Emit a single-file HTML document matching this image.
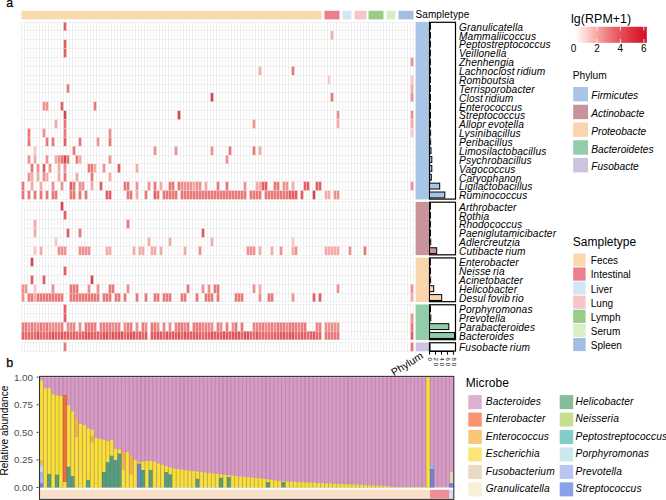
<!DOCTYPE html><html><head><meta charset="utf-8"><style>html,body{margin:0;padding:0;background:#fff;overflow:hidden}svg{display:block}</style></head><body>
<svg width="666" height="500" viewBox="0 0 666 500" font-family='"Liberation Sans", sans-serif'>
<rect width="666" height="500" fill="#fff"/>
<text x="6.2" y="6.7" font-size="12.3" fill="#000" stroke="#000" stroke-width="0.25">a</text>
<rect x="21.50" y="10.8" width="300.00" height="8.6" fill="#FAD9AE"/>
<rect x="324.50" y="10.8" width="15.00" height="8.6" fill="#EC7F8E"/>
<rect x="342.50" y="10.8" width="9.00" height="8.6" fill="#D3E6F4"/>
<rect x="354.50" y="10.8" width="12.00" height="8.6" fill="#F7C4CA"/>
<rect x="368.50" y="10.8" width="15.00" height="8.6" fill="#98CD88"/>
<rect x="386.50" y="10.8" width="9.00" height="8.6" fill="#D8EFC6"/>
<rect x="398.50" y="10.8" width="15.00" height="8.6" fill="#A3BEE2"/>
<text x="415.5" y="17.9" font-size="10" letter-spacing="0.1" fill="#000">Sampletype</text>
<rect x="21.00" y="22.00" width="300.00" height="177.40" fill="#fff"/>
<rect x="324.00" y="22.00" width="15.00" height="177.40" fill="#fff"/>
<rect x="342.00" y="22.00" width="9.00" height="177.40" fill="#fff"/>
<rect x="354.00" y="22.00" width="12.00" height="177.40" fill="#fff"/>
<rect x="368.00" y="22.00" width="15.00" height="177.40" fill="#fff"/>
<rect x="386.00" y="22.00" width="9.00" height="177.40" fill="#fff"/>
<rect x="398.00" y="22.00" width="15.00" height="177.40" fill="#fff"/>
<rect x="21.00" y="201.90" width="300.00" height="53.22" fill="#fff"/>
<rect x="324.00" y="201.90" width="15.00" height="53.22" fill="#fff"/>
<rect x="342.00" y="201.90" width="9.00" height="53.22" fill="#fff"/>
<rect x="354.00" y="201.90" width="12.00" height="53.22" fill="#fff"/>
<rect x="368.00" y="201.90" width="15.00" height="53.22" fill="#fff"/>
<rect x="386.00" y="201.90" width="9.00" height="53.22" fill="#fff"/>
<rect x="398.00" y="201.90" width="15.00" height="53.22" fill="#fff"/>
<rect x="21.00" y="257.62" width="300.00" height="44.35" fill="#fff"/>
<rect x="324.00" y="257.62" width="15.00" height="44.35" fill="#fff"/>
<rect x="342.00" y="257.62" width="9.00" height="44.35" fill="#fff"/>
<rect x="354.00" y="257.62" width="12.00" height="44.35" fill="#fff"/>
<rect x="368.00" y="257.62" width="15.00" height="44.35" fill="#fff"/>
<rect x="386.00" y="257.62" width="9.00" height="44.35" fill="#fff"/>
<rect x="398.00" y="257.62" width="15.00" height="44.35" fill="#fff"/>
<rect x="21.00" y="304.47" width="300.00" height="35.48" fill="#fff"/>
<rect x="324.00" y="304.47" width="15.00" height="35.48" fill="#fff"/>
<rect x="342.00" y="304.47" width="9.00" height="35.48" fill="#fff"/>
<rect x="354.00" y="304.47" width="12.00" height="35.48" fill="#fff"/>
<rect x="368.00" y="304.47" width="15.00" height="35.48" fill="#fff"/>
<rect x="386.00" y="304.47" width="9.00" height="35.48" fill="#fff"/>
<rect x="398.00" y="304.47" width="15.00" height="35.48" fill="#fff"/>
<rect x="21.00" y="342.45" width="300.00" height="8.87" fill="#fff"/>
<rect x="324.00" y="342.45" width="15.00" height="8.87" fill="#fff"/>
<rect x="342.00" y="342.45" width="9.00" height="8.87" fill="#fff"/>
<rect x="354.00" y="342.45" width="12.00" height="8.87" fill="#fff"/>
<rect x="368.00" y="342.45" width="15.00" height="8.87" fill="#fff"/>
<rect x="386.00" y="342.45" width="9.00" height="8.87" fill="#fff"/>
<rect x="398.00" y="342.45" width="15.00" height="8.87" fill="#fff"/>
<path d="M21.50 22.00v177.40M24.50 22.00v177.40M27.50 22.00v177.40M30.50 22.00v177.40M33.50 22.00v177.40M36.50 22.00v177.40M39.50 22.00v177.40M42.50 22.00v177.40M45.50 22.00v177.40M48.50 22.00v177.40M51.50 22.00v177.40M54.50 22.00v177.40M57.50 22.00v177.40M60.50 22.00v177.40M63.50 22.00v177.40M66.50 22.00v177.40M69.50 22.00v177.40M72.50 22.00v177.40M75.50 22.00v177.40M78.50 22.00v177.40M81.50 22.00v177.40M84.50 22.00v177.40M87.50 22.00v177.40M90.50 22.00v177.40M93.50 22.00v177.40M96.50 22.00v177.40M99.50 22.00v177.40M102.50 22.00v177.40M105.50 22.00v177.40M108.50 22.00v177.40M111.50 22.00v177.40M114.50 22.00v177.40M117.50 22.00v177.40M120.50 22.00v177.40M123.50 22.00v177.40M126.50 22.00v177.40M129.50 22.00v177.40M132.50 22.00v177.40M135.50 22.00v177.40M138.50 22.00v177.40M141.50 22.00v177.40M144.50 22.00v177.40M147.50 22.00v177.40M150.50 22.00v177.40M153.50 22.00v177.40M156.50 22.00v177.40M159.50 22.00v177.40M162.50 22.00v177.40M165.50 22.00v177.40M168.50 22.00v177.40M171.50 22.00v177.40M174.50 22.00v177.40M177.50 22.00v177.40M180.50 22.00v177.40M183.50 22.00v177.40M186.50 22.00v177.40M189.50 22.00v177.40M192.50 22.00v177.40M195.50 22.00v177.40M198.50 22.00v177.40M201.50 22.00v177.40M204.50 22.00v177.40M207.50 22.00v177.40M210.50 22.00v177.40M213.50 22.00v177.40M216.50 22.00v177.40M219.50 22.00v177.40M222.50 22.00v177.40M225.50 22.00v177.40M228.50 22.00v177.40M231.50 22.00v177.40M234.50 22.00v177.40M237.50 22.00v177.40M240.50 22.00v177.40M243.50 22.00v177.40M246.50 22.00v177.40M249.50 22.00v177.40M252.50 22.00v177.40M255.50 22.00v177.40M258.50 22.00v177.40M261.50 22.00v177.40M264.50 22.00v177.40M267.50 22.00v177.40M270.50 22.00v177.40M273.50 22.00v177.40M276.50 22.00v177.40M279.50 22.00v177.40M282.50 22.00v177.40M285.50 22.00v177.40M288.50 22.00v177.40M291.50 22.00v177.40M294.50 22.00v177.40M297.50 22.00v177.40M300.50 22.00v177.40M303.50 22.00v177.40M306.50 22.00v177.40M309.50 22.00v177.40M312.50 22.00v177.40M315.50 22.00v177.40M318.50 22.00v177.40M321.50 22.00v177.40M324.50 22.00v177.40M327.50 22.00v177.40M330.50 22.00v177.40M333.50 22.00v177.40M336.50 22.00v177.40M339.50 22.00v177.40M342.50 22.00v177.40M345.50 22.00v177.40M348.50 22.00v177.40M351.50 22.00v177.40M354.50 22.00v177.40M357.50 22.00v177.40M360.50 22.00v177.40M363.50 22.00v177.40M366.50 22.00v177.40M368.50 22.00v177.40M371.50 22.00v177.40M374.50 22.00v177.40M377.50 22.00v177.40M380.50 22.00v177.40M383.50 22.00v177.40M386.50 22.00v177.40M389.50 22.00v177.40M392.50 22.00v177.40M395.50 22.00v177.40M398.50 22.00v177.40M401.50 22.00v177.40M404.50 22.00v177.40M407.50 22.00v177.40M410.50 22.00v177.40M413.50 22.00v177.40M21.50 201.90v53.22M24.50 201.90v53.22M27.50 201.90v53.22M30.50 201.90v53.22M33.50 201.90v53.22M36.50 201.90v53.22M39.50 201.90v53.22M42.50 201.90v53.22M45.50 201.90v53.22M48.50 201.90v53.22M51.50 201.90v53.22M54.50 201.90v53.22M57.50 201.90v53.22M60.50 201.90v53.22M63.50 201.90v53.22M66.50 201.90v53.22M69.50 201.90v53.22M72.50 201.90v53.22M75.50 201.90v53.22M78.50 201.90v53.22M81.50 201.90v53.22M84.50 201.90v53.22M87.50 201.90v53.22M90.50 201.90v53.22M93.50 201.90v53.22M96.50 201.90v53.22M99.50 201.90v53.22M102.50 201.90v53.22M105.50 201.90v53.22M108.50 201.90v53.22M111.50 201.90v53.22M114.50 201.90v53.22M117.50 201.90v53.22M120.50 201.90v53.22M123.50 201.90v53.22M126.50 201.90v53.22M129.50 201.90v53.22M132.50 201.90v53.22M135.50 201.90v53.22M138.50 201.90v53.22M141.50 201.90v53.22M144.50 201.90v53.22M147.50 201.90v53.22M150.50 201.90v53.22M153.50 201.90v53.22M156.50 201.90v53.22M159.50 201.90v53.22M162.50 201.90v53.22M165.50 201.90v53.22M168.50 201.90v53.22M171.50 201.90v53.22M174.50 201.90v53.22M177.50 201.90v53.22M180.50 201.90v53.22M183.50 201.90v53.22M186.50 201.90v53.22M189.50 201.90v53.22M192.50 201.90v53.22M195.50 201.90v53.22M198.50 201.90v53.22M201.50 201.90v53.22M204.50 201.90v53.22M207.50 201.90v53.22M210.50 201.90v53.22M213.50 201.90v53.22M216.50 201.90v53.22M219.50 201.90v53.22M222.50 201.90v53.22M225.50 201.90v53.22M228.50 201.90v53.22M231.50 201.90v53.22M234.50 201.90v53.22M237.50 201.90v53.22M240.50 201.90v53.22M243.50 201.90v53.22M246.50 201.90v53.22M249.50 201.90v53.22M252.50 201.90v53.22M255.50 201.90v53.22M258.50 201.90v53.22M261.50 201.90v53.22M264.50 201.90v53.22M267.50 201.90v53.22M270.50 201.90v53.22M273.50 201.90v53.22M276.50 201.90v53.22M279.50 201.90v53.22M282.50 201.90v53.22M285.50 201.90v53.22M288.50 201.90v53.22M291.50 201.90v53.22M294.50 201.90v53.22M297.50 201.90v53.22M300.50 201.90v53.22M303.50 201.90v53.22M306.50 201.90v53.22M309.50 201.90v53.22M312.50 201.90v53.22M315.50 201.90v53.22M318.50 201.90v53.22M321.50 201.90v53.22M324.50 201.90v53.22M327.50 201.90v53.22M330.50 201.90v53.22M333.50 201.90v53.22M336.50 201.90v53.22M339.50 201.90v53.22M342.50 201.90v53.22M345.50 201.90v53.22M348.50 201.90v53.22M351.50 201.90v53.22M354.50 201.90v53.22M357.50 201.90v53.22M360.50 201.90v53.22M363.50 201.90v53.22M366.50 201.90v53.22M368.50 201.90v53.22M371.50 201.90v53.22M374.50 201.90v53.22M377.50 201.90v53.22M380.50 201.90v53.22M383.50 201.90v53.22M386.50 201.90v53.22M389.50 201.90v53.22M392.50 201.90v53.22M395.50 201.90v53.22M398.50 201.90v53.22M401.50 201.90v53.22M404.50 201.90v53.22M407.50 201.90v53.22M410.50 201.90v53.22M413.50 201.90v53.22M21.50 257.62v44.35M24.50 257.62v44.35M27.50 257.62v44.35M30.50 257.62v44.35M33.50 257.62v44.35M36.50 257.62v44.35M39.50 257.62v44.35M42.50 257.62v44.35M45.50 257.62v44.35M48.50 257.62v44.35M51.50 257.62v44.35M54.50 257.62v44.35M57.50 257.62v44.35M60.50 257.62v44.35M63.50 257.62v44.35M66.50 257.62v44.35M69.50 257.62v44.35M72.50 257.62v44.35M75.50 257.62v44.35M78.50 257.62v44.35M81.50 257.62v44.35M84.50 257.62v44.35M87.50 257.62v44.35M90.50 257.62v44.35M93.50 257.62v44.35M96.50 257.62v44.35M99.50 257.62v44.35M102.50 257.62v44.35M105.50 257.62v44.35M108.50 257.62v44.35M111.50 257.62v44.35M114.50 257.62v44.35M117.50 257.62v44.35M120.50 257.62v44.35M123.50 257.62v44.35M126.50 257.62v44.35M129.50 257.62v44.35M132.50 257.62v44.35M135.50 257.62v44.35M138.50 257.62v44.35M141.50 257.62v44.35M144.50 257.62v44.35M147.50 257.62v44.35M150.50 257.62v44.35M153.50 257.62v44.35M156.50 257.62v44.35M159.50 257.62v44.35M162.50 257.62v44.35M165.50 257.62v44.35M168.50 257.62v44.35M171.50 257.62v44.35M174.50 257.62v44.35M177.50 257.62v44.35M180.50 257.62v44.35M183.50 257.62v44.35M186.50 257.62v44.35M189.50 257.62v44.35M192.50 257.62v44.35M195.50 257.62v44.35M198.50 257.62v44.35M201.50 257.62v44.35M204.50 257.62v44.35M207.50 257.62v44.35M210.50 257.62v44.35M213.50 257.62v44.35M216.50 257.62v44.35M219.50 257.62v44.35M222.50 257.62v44.35M225.50 257.62v44.35M228.50 257.62v44.35M231.50 257.62v44.35M234.50 257.62v44.35M237.50 257.62v44.35M240.50 257.62v44.35M243.50 257.62v44.35M246.50 257.62v44.35M249.50 257.62v44.35M252.50 257.62v44.35M255.50 257.62v44.35M258.50 257.62v44.35M261.50 257.62v44.35M264.50 257.62v44.35M267.50 257.62v44.35M270.50 257.62v44.35M273.50 257.62v44.35M276.50 257.62v44.35M279.50 257.62v44.35M282.50 257.62v44.35M285.50 257.62v44.35M288.50 257.62v44.35M291.50 257.62v44.35M294.50 257.62v44.35M297.50 257.62v44.35M300.50 257.62v44.35M303.50 257.62v44.35M306.50 257.62v44.35M309.50 257.62v44.35M312.50 257.62v44.35M315.50 257.62v44.35M318.50 257.62v44.35M321.50 257.62v44.35M324.50 257.62v44.35M327.50 257.62v44.35M330.50 257.62v44.35M333.50 257.62v44.35M336.50 257.62v44.35M339.50 257.62v44.35M342.50 257.62v44.35M345.50 257.62v44.35M348.50 257.62v44.35M351.50 257.62v44.35M354.50 257.62v44.35M357.50 257.62v44.35M360.50 257.62v44.35M363.50 257.62v44.35M366.50 257.62v44.35M368.50 257.62v44.35M371.50 257.62v44.35M374.50 257.62v44.35M377.50 257.62v44.35M380.50 257.62v44.35M383.50 257.62v44.35M386.50 257.62v44.35M389.50 257.62v44.35M392.50 257.62v44.35M395.50 257.62v44.35M398.50 257.62v44.35M401.50 257.62v44.35M404.50 257.62v44.35M407.50 257.62v44.35M410.50 257.62v44.35M413.50 257.62v44.35M21.50 304.47v35.48M24.50 304.47v35.48M27.50 304.47v35.48M30.50 304.47v35.48M33.50 304.47v35.48M36.50 304.47v35.48M39.50 304.47v35.48M42.50 304.47v35.48M45.50 304.47v35.48M48.50 304.47v35.48M51.50 304.47v35.48M54.50 304.47v35.48M57.50 304.47v35.48M60.50 304.47v35.48M63.50 304.47v35.48M66.50 304.47v35.48M69.50 304.47v35.48M72.50 304.47v35.48M75.50 304.47v35.48M78.50 304.47v35.48M81.50 304.47v35.48M84.50 304.47v35.48M87.50 304.47v35.48M90.50 304.47v35.48M93.50 304.47v35.48M96.50 304.47v35.48M99.50 304.47v35.48M102.50 304.47v35.48M105.50 304.47v35.48M108.50 304.47v35.48M111.50 304.47v35.48M114.50 304.47v35.48M117.50 304.47v35.48M120.50 304.47v35.48M123.50 304.47v35.48M126.50 304.47v35.48M129.50 304.47v35.48M132.50 304.47v35.48M135.50 304.47v35.48M138.50 304.47v35.48M141.50 304.47v35.48M144.50 304.47v35.48M147.50 304.47v35.48M150.50 304.47v35.48M153.50 304.47v35.48M156.50 304.47v35.48M159.50 304.47v35.48M162.50 304.47v35.48M165.50 304.47v35.48M168.50 304.47v35.48M171.50 304.47v35.48M174.50 304.47v35.48M177.50 304.47v35.48M180.50 304.47v35.48M183.50 304.47v35.48M186.50 304.47v35.48M189.50 304.47v35.48M192.50 304.47v35.48M195.50 304.47v35.48M198.50 304.47v35.48M201.50 304.47v35.48M204.50 304.47v35.48M207.50 304.47v35.48M210.50 304.47v35.48M213.50 304.47v35.48M216.50 304.47v35.48M219.50 304.47v35.48M222.50 304.47v35.48M225.50 304.47v35.48M228.50 304.47v35.48M231.50 304.47v35.48M234.50 304.47v35.48M237.50 304.47v35.48M240.50 304.47v35.48M243.50 304.47v35.48M246.50 304.47v35.48M249.50 304.47v35.48M252.50 304.47v35.48M255.50 304.47v35.48M258.50 304.47v35.48M261.50 304.47v35.48M264.50 304.47v35.48M267.50 304.47v35.48M270.50 304.47v35.48M273.50 304.47v35.48M276.50 304.47v35.48M279.50 304.47v35.48M282.50 304.47v35.48M285.50 304.47v35.48M288.50 304.47v35.48M291.50 304.47v35.48M294.50 304.47v35.48M297.50 304.47v35.48M300.50 304.47v35.48M303.50 304.47v35.48M306.50 304.47v35.48M309.50 304.47v35.48M312.50 304.47v35.48M315.50 304.47v35.48M318.50 304.47v35.48M321.50 304.47v35.48M324.50 304.47v35.48M327.50 304.47v35.48M330.50 304.47v35.48M333.50 304.47v35.48M336.50 304.47v35.48M339.50 304.47v35.48M342.50 304.47v35.48M345.50 304.47v35.48M348.50 304.47v35.48M351.50 304.47v35.48M354.50 304.47v35.48M357.50 304.47v35.48M360.50 304.47v35.48M363.50 304.47v35.48M366.50 304.47v35.48M368.50 304.47v35.48M371.50 304.47v35.48M374.50 304.47v35.48M377.50 304.47v35.48M380.50 304.47v35.48M383.50 304.47v35.48M386.50 304.47v35.48M389.50 304.47v35.48M392.50 304.47v35.48M395.50 304.47v35.48M398.50 304.47v35.48M401.50 304.47v35.48M404.50 304.47v35.48M407.50 304.47v35.48M410.50 304.47v35.48M413.50 304.47v35.48M21.50 342.45v8.87M24.50 342.45v8.87M27.50 342.45v8.87M30.50 342.45v8.87M33.50 342.45v8.87M36.50 342.45v8.87M39.50 342.45v8.87M42.50 342.45v8.87M45.50 342.45v8.87M48.50 342.45v8.87M51.50 342.45v8.87M54.50 342.45v8.87M57.50 342.45v8.87M60.50 342.45v8.87M63.50 342.45v8.87M66.50 342.45v8.87M69.50 342.45v8.87M72.50 342.45v8.87M75.50 342.45v8.87M78.50 342.45v8.87M81.50 342.45v8.87M84.50 342.45v8.87M87.50 342.45v8.87M90.50 342.45v8.87M93.50 342.45v8.87M96.50 342.45v8.87M99.50 342.45v8.87M102.50 342.45v8.87M105.50 342.45v8.87M108.50 342.45v8.87M111.50 342.45v8.87M114.50 342.45v8.87M117.50 342.45v8.87M120.50 342.45v8.87M123.50 342.45v8.87M126.50 342.45v8.87M129.50 342.45v8.87M132.50 342.45v8.87M135.50 342.45v8.87M138.50 342.45v8.87M141.50 342.45v8.87M144.50 342.45v8.87M147.50 342.45v8.87M150.50 342.45v8.87M153.50 342.45v8.87M156.50 342.45v8.87M159.50 342.45v8.87M162.50 342.45v8.87M165.50 342.45v8.87M168.50 342.45v8.87M171.50 342.45v8.87M174.50 342.45v8.87M177.50 342.45v8.87M180.50 342.45v8.87M183.50 342.45v8.87M186.50 342.45v8.87M189.50 342.45v8.87M192.50 342.45v8.87M195.50 342.45v8.87M198.50 342.45v8.87M201.50 342.45v8.87M204.50 342.45v8.87M207.50 342.45v8.87M210.50 342.45v8.87M213.50 342.45v8.87M216.50 342.45v8.87M219.50 342.45v8.87M222.50 342.45v8.87M225.50 342.45v8.87M228.50 342.45v8.87M231.50 342.45v8.87M234.50 342.45v8.87M237.50 342.45v8.87M240.50 342.45v8.87M243.50 342.45v8.87M246.50 342.45v8.87M249.50 342.45v8.87M252.50 342.45v8.87M255.50 342.45v8.87M258.50 342.45v8.87M261.50 342.45v8.87M264.50 342.45v8.87M267.50 342.45v8.87M270.50 342.45v8.87M273.50 342.45v8.87M276.50 342.45v8.87M279.50 342.45v8.87M282.50 342.45v8.87M285.50 342.45v8.87M288.50 342.45v8.87M291.50 342.45v8.87M294.50 342.45v8.87M297.50 342.45v8.87M300.50 342.45v8.87M303.50 342.45v8.87M306.50 342.45v8.87M309.50 342.45v8.87M312.50 342.45v8.87M315.50 342.45v8.87M318.50 342.45v8.87M321.50 342.45v8.87M324.50 342.45v8.87M327.50 342.45v8.87M330.50 342.45v8.87M333.50 342.45v8.87M336.50 342.45v8.87M339.50 342.45v8.87M342.50 342.45v8.87M345.50 342.45v8.87M348.50 342.45v8.87M351.50 342.45v8.87M354.50 342.45v8.87M357.50 342.45v8.87M360.50 342.45v8.87M363.50 342.45v8.87M366.50 342.45v8.87M368.50 342.45v8.87M371.50 342.45v8.87M374.50 342.45v8.87M377.50 342.45v8.87M380.50 342.45v8.87M383.50 342.45v8.87M386.50 342.45v8.87M389.50 342.45v8.87M392.50 342.45v8.87M395.50 342.45v8.87M398.50 342.45v8.87M401.50 342.45v8.87M404.50 342.45v8.87M407.50 342.45v8.87M410.50 342.45v8.87M413.50 342.45v8.87" stroke="#e2e2e2" stroke-width="1" fill="none" opacity="0.55" shape-rendering="crispEdges"/>
<path d="M21 22.00H414M21 30.87H414M21 39.74H414M21 48.61H414M21 57.48H414M21 66.35H414M21 75.22H414M21 84.09H414M21 92.96H414M21 101.83H414M21 110.70H414M21 119.57H414M21 128.44H414M21 137.31H414M21 146.18H414M21 155.05H414M21 163.92H414M21 172.79H414M21 181.66H414M21 190.53H414M21 199.40H414M21 201.90H414M21 210.77H414M21 219.64H414M21 228.51H414M21 237.38H414M21 246.25H414M21 255.12H414M21 257.62H414M21 266.49H414M21 275.36H414M21 284.23H414M21 293.10H414M21 301.97H414M21 304.47H414M21 313.34H414M21 322.21H414M21 331.08H414M21 339.95H414M21 342.45H414M21 351.32H414" stroke="#e2e2e2" stroke-width="1" fill="none" opacity="0.45" shape-rendering="crispEdges"/>
<rect x="63.50" y="22.00" width="3.00" height="8.87" fill="#e55d60"/>
<rect x="330.50" y="30.87" width="3.00" height="8.87" fill="#f5aca8"/>
<rect x="63.50" y="39.74" width="3.00" height="8.87" fill="#e55d60"/>
<rect x="63.50" y="48.61" width="3.00" height="8.87" fill="#e55d60"/>
<rect x="410.50" y="57.48" width="3.00" height="8.87" fill="#f09190"/>
<rect x="258.50" y="66.35" width="3.00" height="8.87" fill="#f5aca8"/>
<rect x="291.50" y="66.35" width="3.00" height="8.87" fill="#ec7777"/>
<rect x="327.50" y="75.22" width="3.00" height="8.87" fill="#f8c9c6"/>
<rect x="410.50" y="75.22" width="3.00" height="8.87" fill="#f8c9c6"/>
<rect x="66.50" y="84.09" width="3.00" height="8.87" fill="#ec7777"/>
<rect x="410.50" y="84.09" width="3.00" height="8.87" fill="#f5aca8"/>
<rect x="210.50" y="92.96" width="3.00" height="8.87" fill="#d3464f"/>
<rect x="330.50" y="92.96" width="3.00" height="8.87" fill="#ec7777"/>
<rect x="410.50" y="92.96" width="3.00" height="8.87" fill="#f09190"/>
<rect x="42.50" y="101.83" width="3.00" height="8.87" fill="#f09190"/>
<rect x="45.50" y="101.83" width="3.00" height="8.87" fill="#f09190"/>
<rect x="60.50" y="101.83" width="3.00" height="8.87" fill="#e55d60"/>
<rect x="93.50" y="101.83" width="3.00" height="8.87" fill="#ec7777"/>
<rect x="63.50" y="110.70" width="3.00" height="8.87" fill="#d3464f"/>
<rect x="177.50" y="110.70" width="3.00" height="8.87" fill="#d3464f"/>
<rect x="336.50" y="110.70" width="3.00" height="8.87" fill="#f09190"/>
<rect x="410.50" y="110.70" width="3.00" height="8.87" fill="#f09190"/>
<rect x="54.50" y="119.57" width="3.00" height="8.87" fill="#f5aca8"/>
<rect x="63.50" y="119.57" width="3.00" height="8.87" fill="#ec7777"/>
<rect x="252.50" y="119.57" width="3.00" height="8.87" fill="#f09190"/>
<rect x="336.50" y="119.57" width="3.00" height="8.87" fill="#f5aca8"/>
<rect x="410.50" y="119.57" width="3.00" height="8.87" fill="#f5aca8"/>
<rect x="27.50" y="128.44" width="3.00" height="8.87" fill="#ec7777"/>
<rect x="42.50" y="128.44" width="3.00" height="8.87" fill="#f09190"/>
<rect x="63.50" y="128.44" width="3.00" height="8.87" fill="#ec7777"/>
<rect x="108.50" y="128.44" width="3.00" height="8.87" fill="#f09190"/>
<rect x="410.50" y="128.44" width="3.00" height="8.87" fill="#f8c9c6"/>
<rect x="27.50" y="137.31" width="3.00" height="8.87" fill="#ec7777"/>
<rect x="45.50" y="137.31" width="3.00" height="8.87" fill="#ec7777"/>
<rect x="51.50" y="137.31" width="3.00" height="8.87" fill="#ec7777"/>
<rect x="63.50" y="137.31" width="3.00" height="8.87" fill="#e55d60"/>
<rect x="78.50" y="137.31" width="3.00" height="8.87" fill="#ec7777"/>
<rect x="96.50" y="137.31" width="3.00" height="8.87" fill="#f09190"/>
<rect x="108.50" y="137.31" width="3.00" height="8.87" fill="#ec7777"/>
<rect x="153.50" y="146.18" width="3.00" height="8.87" fill="#f09190"/>
<rect x="174.50" y="146.18" width="3.00" height="8.87" fill="#f09190"/>
<rect x="210.50" y="146.18" width="3.00" height="8.87" fill="#f09190"/>
<rect x="228.50" y="146.18" width="3.00" height="8.87" fill="#ec7777"/>
<rect x="252.50" y="146.18" width="3.00" height="8.87" fill="#ec7777"/>
<rect x="258.50" y="146.18" width="3.00" height="8.87" fill="#f5aca8"/>
<rect x="33.50" y="146.18" width="3.00" height="8.87" fill="#f8c9c6"/>
<rect x="72.50" y="146.18" width="3.00" height="8.87" fill="#ec7777"/>
<rect x="225.50" y="155.05" width="3.00" height="8.87" fill="#f09190"/>
<rect x="27.50" y="155.05" width="3.00" height="8.87" fill="#f09190"/>
<rect x="33.50" y="155.05" width="3.00" height="8.87" fill="#f5aca8"/>
<rect x="45.50" y="155.05" width="3.00" height="8.87" fill="#f09190"/>
<rect x="54.50" y="155.05" width="3.00" height="8.87" fill="#f5aca8"/>
<rect x="57.50" y="155.05" width="3.00" height="8.87" fill="#f09190"/>
<rect x="60.50" y="155.05" width="3.00" height="8.87" fill="#ec7777"/>
<rect x="63.50" y="155.05" width="3.00" height="8.87" fill="#d3464f"/>
<rect x="66.50" y="155.05" width="3.00" height="8.87" fill="#ec7777"/>
<rect x="75.50" y="155.05" width="3.00" height="8.87" fill="#ec7777"/>
<rect x="78.50" y="155.05" width="3.00" height="8.87" fill="#f5aca8"/>
<rect x="108.50" y="155.05" width="3.00" height="8.87" fill="#f09190"/>
<rect x="30.50" y="163.92" width="3.00" height="8.87" fill="#ec7777"/>
<rect x="36.50" y="163.92" width="3.00" height="8.87" fill="#f09190"/>
<rect x="42.50" y="163.92" width="3.00" height="8.87" fill="#e55d60"/>
<rect x="48.50" y="163.92" width="3.00" height="8.87" fill="#f09190"/>
<rect x="57.50" y="163.92" width="3.00" height="8.87" fill="#f5aca8"/>
<rect x="63.50" y="163.92" width="3.00" height="8.87" fill="#f09190"/>
<rect x="87.50" y="163.92" width="3.00" height="8.87" fill="#ec7777"/>
<rect x="90.50" y="163.92" width="3.00" height="8.87" fill="#ec7777"/>
<rect x="93.50" y="163.92" width="3.00" height="8.87" fill="#f5aca8"/>
<rect x="102.50" y="163.92" width="3.00" height="8.87" fill="#f09190"/>
<rect x="117.50" y="163.92" width="3.00" height="8.87" fill="#e55d60"/>
<rect x="135.50" y="163.92" width="3.00" height="8.87" fill="#f5aca8"/>
<rect x="27.50" y="172.79" width="3.00" height="8.87" fill="#f09190"/>
<rect x="30.50" y="172.79" width="3.00" height="8.87" fill="#f5aca8"/>
<rect x="36.50" y="172.79" width="3.00" height="8.87" fill="#f5aca8"/>
<rect x="42.50" y="172.79" width="3.00" height="8.87" fill="#f09190"/>
<rect x="45.50" y="172.79" width="3.00" height="8.87" fill="#f5aca8"/>
<rect x="57.50" y="172.79" width="3.00" height="8.87" fill="#f5aca8"/>
<rect x="63.50" y="172.79" width="3.00" height="8.87" fill="#ec7777"/>
<rect x="75.50" y="172.79" width="3.00" height="8.87" fill="#f5aca8"/>
<rect x="90.50" y="172.79" width="3.00" height="8.87" fill="#ec7777"/>
<rect x="108.50" y="172.79" width="3.00" height="8.87" fill="#f5aca8"/>
<rect x="21.50" y="181.66" width="3.00" height="8.87" fill="#ec7777"/>
<rect x="30.50" y="181.66" width="3.00" height="8.87" fill="#f5aca8"/>
<rect x="39.50" y="181.66" width="3.00" height="8.87" fill="#f5aca8"/>
<rect x="51.50" y="181.66" width="3.00" height="8.87" fill="#f09190"/>
<rect x="60.50" y="181.66" width="3.00" height="8.87" fill="#f09190"/>
<rect x="69.50" y="181.66" width="3.00" height="8.87" fill="#e55d60"/>
<rect x="72.50" y="181.66" width="3.00" height="8.87" fill="#ec7777"/>
<rect x="78.50" y="181.66" width="3.00" height="8.87" fill="#f09190"/>
<rect x="81.50" y="181.66" width="3.00" height="8.87" fill="#f09190"/>
<rect x="90.50" y="181.66" width="3.00" height="8.87" fill="#f5aca8"/>
<rect x="99.50" y="181.66" width="3.00" height="8.87" fill="#e55d60"/>
<rect x="123.50" y="181.66" width="3.00" height="8.87" fill="#ec7777"/>
<rect x="126.50" y="181.66" width="3.00" height="8.87" fill="#ec7777"/>
<rect x="135.50" y="181.66" width="3.00" height="8.87" fill="#f09190"/>
<rect x="147.50" y="181.66" width="3.00" height="8.87" fill="#f09190"/>
<rect x="153.50" y="181.66" width="3.00" height="8.87" fill="#ec7777"/>
<rect x="159.50" y="181.66" width="3.00" height="8.87" fill="#f5aca8"/>
<rect x="168.50" y="181.66" width="3.00" height="8.87" fill="#ec7777"/>
<rect x="171.50" y="181.66" width="3.00" height="8.87" fill="#ec7777"/>
<rect x="177.50" y="181.66" width="3.00" height="8.87" fill="#ec7777"/>
<rect x="180.50" y="181.66" width="3.00" height="8.87" fill="#f09190"/>
<rect x="183.50" y="181.66" width="3.00" height="8.87" fill="#f09190"/>
<rect x="186.50" y="181.66" width="3.00" height="8.87" fill="#f09190"/>
<rect x="189.50" y="181.66" width="3.00" height="8.87" fill="#f09190"/>
<rect x="195.50" y="181.66" width="3.00" height="8.87" fill="#f09190"/>
<rect x="198.50" y="181.66" width="3.00" height="8.87" fill="#f09190"/>
<rect x="192.50" y="181.66" width="3.00" height="8.87" fill="#f5aca8"/>
<rect x="204.50" y="181.66" width="3.00" height="8.87" fill="#f5aca8"/>
<rect x="216.50" y="181.66" width="3.00" height="8.87" fill="#ec7777"/>
<rect x="225.50" y="181.66" width="3.00" height="8.87" fill="#ec7777"/>
<rect x="243.50" y="181.66" width="3.00" height="8.87" fill="#f09190"/>
<rect x="255.50" y="181.66" width="3.00" height="8.87" fill="#f5aca8"/>
<rect x="258.50" y="181.66" width="3.00" height="8.87" fill="#f5aca8"/>
<rect x="261.50" y="181.66" width="3.00" height="8.87" fill="#e55d60"/>
<rect x="264.50" y="181.66" width="3.00" height="8.87" fill="#e55d60"/>
<rect x="273.50" y="181.66" width="3.00" height="8.87" fill="#ec7777"/>
<rect x="276.50" y="181.66" width="3.00" height="8.87" fill="#ec7777"/>
<rect x="282.50" y="181.66" width="3.00" height="8.87" fill="#f09190"/>
<rect x="285.50" y="181.66" width="3.00" height="8.87" fill="#f09190"/>
<rect x="291.50" y="181.66" width="3.00" height="8.87" fill="#f5aca8"/>
<rect x="303.50" y="181.66" width="3.00" height="8.87" fill="#e55d60"/>
<rect x="306.50" y="181.66" width="3.00" height="8.87" fill="#e55d60"/>
<rect x="315.50" y="181.66" width="3.00" height="8.87" fill="#e55d60"/>
<rect x="318.50" y="181.66" width="3.00" height="8.87" fill="#e55d60"/>
<rect x="410.50" y="181.66" width="3.00" height="8.87" fill="#f09190"/>
<rect x="21.50" y="190.53" width="3.00" height="8.87" fill="#ec7777"/>
<rect x="27.50" y="190.53" width="3.00" height="8.87" fill="#ec7777"/>
<rect x="33.50" y="190.53" width="3.00" height="8.87" fill="#ec7777"/>
<rect x="39.50" y="190.53" width="3.00" height="8.87" fill="#ec7777"/>
<rect x="45.50" y="190.53" width="3.00" height="8.87" fill="#ec7777"/>
<rect x="51.50" y="190.53" width="3.00" height="8.87" fill="#ec7777"/>
<rect x="54.50" y="190.53" width="3.00" height="8.87" fill="#ec7777"/>
<rect x="69.50" y="190.53" width="3.00" height="8.87" fill="#ec7777"/>
<rect x="72.50" y="190.53" width="3.00" height="8.87" fill="#ec7777"/>
<rect x="78.50" y="190.53" width="3.00" height="8.87" fill="#ec7777"/>
<rect x="84.50" y="190.53" width="3.00" height="8.87" fill="#ec7777"/>
<rect x="105.50" y="190.53" width="3.00" height="8.87" fill="#e55d60"/>
<rect x="108.50" y="190.53" width="3.00" height="8.87" fill="#e55d60"/>
<rect x="126.50" y="190.53" width="3.00" height="8.87" fill="#ec7777"/>
<rect x="129.50" y="190.53" width="3.00" height="8.87" fill="#ec7777"/>
<rect x="135.50" y="190.53" width="3.00" height="8.87" fill="#f5aca8"/>
<rect x="144.50" y="190.53" width="3.00" height="8.87" fill="#ec7777"/>
<rect x="153.50" y="190.53" width="3.00" height="8.87" fill="#e55d60"/>
<rect x="156.50" y="190.53" width="3.00" height="8.87" fill="#ec7777"/>
<rect x="162.50" y="190.53" width="3.00" height="8.87" fill="#ec7777"/>
<rect x="165.50" y="190.53" width="3.00" height="8.87" fill="#ec7777"/>
<rect x="168.50" y="190.53" width="3.00" height="8.87" fill="#ec7777"/>
<rect x="171.50" y="190.53" width="3.00" height="8.87" fill="#ec7777"/>
<rect x="174.50" y="190.53" width="3.00" height="8.87" fill="#ec7777"/>
<rect x="180.50" y="190.53" width="3.00" height="8.87" fill="#ec7777"/>
<rect x="183.50" y="190.53" width="3.00" height="8.87" fill="#ec7777"/>
<rect x="186.50" y="190.53" width="3.00" height="8.87" fill="#ec7777"/>
<rect x="189.50" y="190.53" width="3.00" height="8.87" fill="#ec7777"/>
<rect x="192.50" y="190.53" width="3.00" height="8.87" fill="#ec7777"/>
<rect x="195.50" y="190.53" width="3.00" height="8.87" fill="#ec7777"/>
<rect x="198.50" y="190.53" width="3.00" height="8.87" fill="#ec7777"/>
<rect x="201.50" y="190.53" width="3.00" height="8.87" fill="#ec7777"/>
<rect x="204.50" y="190.53" width="3.00" height="8.87" fill="#ec7777"/>
<rect x="207.50" y="190.53" width="3.00" height="8.87" fill="#ec7777"/>
<rect x="210.50" y="190.53" width="3.00" height="8.87" fill="#ec7777"/>
<rect x="213.50" y="190.53" width="3.00" height="8.87" fill="#ec7777"/>
<rect x="216.50" y="190.53" width="3.00" height="8.87" fill="#ec7777"/>
<rect x="219.50" y="190.53" width="3.00" height="8.87" fill="#ec7777"/>
<rect x="222.50" y="190.53" width="3.00" height="8.87" fill="#ec7777"/>
<rect x="225.50" y="190.53" width="3.00" height="8.87" fill="#ec7777"/>
<rect x="228.50" y="190.53" width="3.00" height="8.87" fill="#ec7777"/>
<rect x="231.50" y="190.53" width="3.00" height="8.87" fill="#ec7777"/>
<rect x="234.50" y="190.53" width="3.00" height="8.87" fill="#ec7777"/>
<rect x="237.50" y="190.53" width="3.00" height="8.87" fill="#ec7777"/>
<rect x="240.50" y="190.53" width="3.00" height="8.87" fill="#ec7777"/>
<rect x="243.50" y="190.53" width="3.00" height="8.87" fill="#ec7777"/>
<rect x="249.50" y="190.53" width="3.00" height="8.87" fill="#ec7777"/>
<rect x="252.50" y="190.53" width="3.00" height="8.87" fill="#ec7777"/>
<rect x="255.50" y="190.53" width="3.00" height="8.87" fill="#ec7777"/>
<rect x="258.50" y="190.53" width="3.00" height="8.87" fill="#ec7777"/>
<rect x="264.50" y="190.53" width="3.00" height="8.87" fill="#ec7777"/>
<rect x="267.50" y="190.53" width="3.00" height="8.87" fill="#ec7777"/>
<rect x="270.50" y="190.53" width="3.00" height="8.87" fill="#ec7777"/>
<rect x="273.50" y="190.53" width="3.00" height="8.87" fill="#ec7777"/>
<rect x="276.50" y="190.53" width="3.00" height="8.87" fill="#ec7777"/>
<rect x="279.50" y="190.53" width="3.00" height="8.87" fill="#ec7777"/>
<rect x="282.50" y="190.53" width="3.00" height="8.87" fill="#ec7777"/>
<rect x="285.50" y="190.53" width="3.00" height="8.87" fill="#ec7777"/>
<rect x="288.50" y="190.53" width="3.00" height="8.87" fill="#e55d60"/>
<rect x="291.50" y="190.53" width="3.00" height="8.87" fill="#e55d60"/>
<rect x="294.50" y="190.53" width="3.00" height="8.87" fill="#e55d60"/>
<rect x="300.50" y="190.53" width="3.00" height="8.87" fill="#e55d60"/>
<rect x="312.50" y="190.53" width="3.00" height="8.87" fill="#d3464f"/>
<rect x="324.50" y="190.53" width="3.00" height="8.87" fill="#f5aca8"/>
<rect x="327.50" y="190.53" width="3.00" height="8.87" fill="#f5aca8"/>
<rect x="333.50" y="190.53" width="3.00" height="8.87" fill="#f09190"/>
<rect x="336.50" y="190.53" width="3.00" height="8.87" fill="#f09190"/>
<rect x="60.50" y="201.90" width="3.00" height="8.87" fill="#d3464f"/>
<rect x="63.50" y="210.77" width="3.00" height="8.87" fill="#e55d60"/>
<rect x="33.50" y="219.64" width="3.00" height="8.87" fill="#f5aca8"/>
<rect x="126.50" y="219.64" width="3.00" height="8.87" fill="#ec7777"/>
<rect x="33.50" y="228.51" width="3.00" height="8.87" fill="#f5aca8"/>
<rect x="66.50" y="228.51" width="3.00" height="8.87" fill="#e55d60"/>
<rect x="78.50" y="228.51" width="3.00" height="8.87" fill="#ec7777"/>
<rect x="201.50" y="228.51" width="3.00" height="8.87" fill="#e55d60"/>
<rect x="54.50" y="237.38" width="3.00" height="8.87" fill="#f8c9c6"/>
<rect x="147.50" y="237.38" width="3.00" height="8.87" fill="#f5aca8"/>
<rect x="168.50" y="237.38" width="3.00" height="8.87" fill="#f5aca8"/>
<rect x="210.50" y="237.38" width="3.00" height="8.87" fill="#f5aca8"/>
<rect x="291.50" y="237.38" width="3.00" height="8.87" fill="#f8c9c6"/>
<rect x="33.50" y="246.25" width="3.00" height="8.87" fill="#f8c9c6"/>
<rect x="39.50" y="246.25" width="3.00" height="8.87" fill="#f5aca8"/>
<rect x="57.50" y="246.25" width="3.00" height="8.87" fill="#f09190"/>
<rect x="60.50" y="246.25" width="3.00" height="8.87" fill="#f09190"/>
<rect x="63.50" y="246.25" width="3.00" height="8.87" fill="#f09190"/>
<rect x="78.50" y="246.25" width="3.00" height="8.87" fill="#f09190"/>
<rect x="81.50" y="246.25" width="3.00" height="8.87" fill="#f09190"/>
<rect x="84.50" y="246.25" width="3.00" height="8.87" fill="#f09190"/>
<rect x="87.50" y="246.25" width="3.00" height="8.87" fill="#f09190"/>
<rect x="105.50" y="246.25" width="3.00" height="8.87" fill="#f5aca8"/>
<rect x="108.50" y="246.25" width="3.00" height="8.87" fill="#f5aca8"/>
<rect x="132.50" y="246.25" width="3.00" height="8.87" fill="#f5aca8"/>
<rect x="138.50" y="246.25" width="3.00" height="8.87" fill="#f5aca8"/>
<rect x="141.50" y="246.25" width="3.00" height="8.87" fill="#f5aca8"/>
<rect x="150.50" y="246.25" width="3.00" height="8.87" fill="#f5aca8"/>
<rect x="153.50" y="246.25" width="3.00" height="8.87" fill="#f5aca8"/>
<rect x="159.50" y="246.25" width="3.00" height="8.87" fill="#f5aca8"/>
<rect x="183.50" y="246.25" width="3.00" height="8.87" fill="#f5aca8"/>
<rect x="198.50" y="246.25" width="3.00" height="8.87" fill="#f09190"/>
<rect x="246.50" y="246.25" width="3.00" height="8.87" fill="#f09190"/>
<rect x="249.50" y="246.25" width="3.00" height="8.87" fill="#f09190"/>
<rect x="252.50" y="246.25" width="3.00" height="8.87" fill="#f09190"/>
<rect x="258.50" y="246.25" width="3.00" height="8.87" fill="#f5aca8"/>
<rect x="270.50" y="246.25" width="3.00" height="8.87" fill="#f5aca8"/>
<rect x="279.50" y="246.25" width="3.00" height="8.87" fill="#f09190"/>
<rect x="291.50" y="246.25" width="3.00" height="8.87" fill="#f5aca8"/>
<rect x="294.50" y="246.25" width="3.00" height="8.87" fill="#f09190"/>
<rect x="324.50" y="246.25" width="3.00" height="8.87" fill="#f5aca8"/>
<rect x="327.50" y="246.25" width="3.00" height="8.87" fill="#f5aca8"/>
<rect x="330.50" y="246.25" width="3.00" height="8.87" fill="#f5aca8"/>
<rect x="333.50" y="246.25" width="3.00" height="8.87" fill="#f5aca8"/>
<rect x="336.50" y="246.25" width="3.00" height="8.87" fill="#f5aca8"/>
<rect x="348.50" y="246.25" width="3.00" height="8.87" fill="#f09190"/>
<rect x="363.50" y="246.25" width="3.00" height="8.87" fill="#ec7777"/>
<rect x="30.50" y="257.62" width="3.00" height="8.87" fill="#d3464f"/>
<rect x="63.50" y="266.49" width="3.00" height="8.87" fill="#e55d60"/>
<rect x="30.50" y="275.36" width="3.00" height="8.87" fill="#e55d60"/>
<rect x="42.50" y="275.36" width="3.00" height="8.87" fill="#e55d60"/>
<rect x="90.50" y="275.36" width="3.00" height="8.87" fill="#d3464f"/>
<rect x="21.50" y="284.23" width="3.00" height="8.87" fill="#f09190"/>
<rect x="24.50" y="284.23" width="3.00" height="8.87" fill="#f09190"/>
<rect x="33.50" y="284.23" width="3.00" height="8.87" fill="#f8c9c6"/>
<rect x="51.50" y="284.23" width="3.00" height="8.87" fill="#f09190"/>
<rect x="69.50" y="284.23" width="3.00" height="8.87" fill="#ec7777"/>
<rect x="72.50" y="284.23" width="3.00" height="8.87" fill="#ec7777"/>
<rect x="75.50" y="284.23" width="3.00" height="8.87" fill="#ec7777"/>
<rect x="87.50" y="284.23" width="3.00" height="8.87" fill="#f09190"/>
<rect x="96.50" y="284.23" width="3.00" height="8.87" fill="#f09190"/>
<rect x="108.50" y="284.23" width="3.00" height="8.87" fill="#ec7777"/>
<rect x="111.50" y="284.23" width="3.00" height="8.87" fill="#ec7777"/>
<rect x="126.50" y="284.23" width="3.00" height="8.87" fill="#f09190"/>
<rect x="186.50" y="284.23" width="3.00" height="8.87" fill="#ec7777"/>
<rect x="201.50" y="284.23" width="3.00" height="8.87" fill="#f09190"/>
<rect x="207.50" y="284.23" width="3.00" height="8.87" fill="#f09190"/>
<rect x="213.50" y="284.23" width="3.00" height="8.87" fill="#ec7777"/>
<rect x="216.50" y="284.23" width="3.00" height="8.87" fill="#ec7777"/>
<rect x="252.50" y="284.23" width="3.00" height="8.87" fill="#f09190"/>
<rect x="258.50" y="284.23" width="3.00" height="8.87" fill="#f5aca8"/>
<rect x="336.50" y="284.23" width="3.00" height="8.87" fill="#f09190"/>
<rect x="410.50" y="284.23" width="3.00" height="8.87" fill="#f09190"/>
<rect x="21.50" y="293.10" width="3.00" height="8.87" fill="#f09190"/>
<rect x="27.50" y="293.10" width="3.00" height="8.87" fill="#ec7777"/>
<rect x="30.50" y="293.10" width="3.00" height="8.87" fill="#ec7777"/>
<rect x="33.50" y="293.10" width="3.00" height="8.87" fill="#f5aca8"/>
<rect x="36.50" y="293.10" width="3.00" height="8.87" fill="#ec7777"/>
<rect x="39.50" y="293.10" width="3.00" height="8.87" fill="#ec7777"/>
<rect x="42.50" y="293.10" width="3.00" height="8.87" fill="#ec7777"/>
<rect x="45.50" y="293.10" width="3.00" height="8.87" fill="#ec7777"/>
<rect x="48.50" y="293.10" width="3.00" height="8.87" fill="#ec7777"/>
<rect x="51.50" y="293.10" width="3.00" height="8.87" fill="#ec7777"/>
<rect x="54.50" y="293.10" width="3.00" height="8.87" fill="#ec7777"/>
<rect x="57.50" y="293.10" width="3.00" height="8.87" fill="#ec7777"/>
<rect x="60.50" y="293.10" width="3.00" height="8.87" fill="#ec7777"/>
<rect x="69.50" y="293.10" width="3.00" height="8.87" fill="#ec7777"/>
<rect x="72.50" y="293.10" width="3.00" height="8.87" fill="#ec7777"/>
<rect x="75.50" y="293.10" width="3.00" height="8.87" fill="#ec7777"/>
<rect x="78.50" y="293.10" width="3.00" height="8.87" fill="#ec7777"/>
<rect x="81.50" y="293.10" width="3.00" height="8.87" fill="#ec7777"/>
<rect x="84.50" y="293.10" width="3.00" height="8.87" fill="#ec7777"/>
<rect x="87.50" y="293.10" width="3.00" height="8.87" fill="#ec7777"/>
<rect x="90.50" y="293.10" width="3.00" height="8.87" fill="#ec7777"/>
<rect x="93.50" y="293.10" width="3.00" height="8.87" fill="#ec7777"/>
<rect x="96.50" y="293.10" width="3.00" height="8.87" fill="#ec7777"/>
<rect x="102.50" y="293.10" width="3.00" height="8.87" fill="#ec7777"/>
<rect x="105.50" y="293.10" width="3.00" height="8.87" fill="#ec7777"/>
<rect x="108.50" y="293.10" width="3.00" height="8.87" fill="#ec7777"/>
<rect x="114.50" y="293.10" width="3.00" height="8.87" fill="#ec7777"/>
<rect x="117.50" y="293.10" width="3.00" height="8.87" fill="#ec7777"/>
<rect x="123.50" y="293.10" width="3.00" height="8.87" fill="#ec7777"/>
<rect x="135.50" y="293.10" width="3.00" height="8.87" fill="#ec7777"/>
<rect x="144.50" y="293.10" width="3.00" height="8.87" fill="#ec7777"/>
<rect x="153.50" y="293.10" width="3.00" height="8.87" fill="#ec7777"/>
<rect x="156.50" y="293.10" width="3.00" height="8.87" fill="#ec7777"/>
<rect x="162.50" y="293.10" width="3.00" height="8.87" fill="#ec7777"/>
<rect x="165.50" y="293.10" width="3.00" height="8.87" fill="#ec7777"/>
<rect x="168.50" y="293.10" width="3.00" height="8.87" fill="#ec7777"/>
<rect x="180.50" y="293.10" width="3.00" height="8.87" fill="#ec7777"/>
<rect x="183.50" y="293.10" width="3.00" height="8.87" fill="#ec7777"/>
<rect x="195.50" y="293.10" width="3.00" height="8.87" fill="#ec7777"/>
<rect x="204.50" y="293.10" width="3.00" height="8.87" fill="#ec7777"/>
<rect x="207.50" y="293.10" width="3.00" height="8.87" fill="#ec7777"/>
<rect x="210.50" y="293.10" width="3.00" height="8.87" fill="#ec7777"/>
<rect x="216.50" y="293.10" width="3.00" height="8.87" fill="#ec7777"/>
<rect x="234.50" y="293.10" width="3.00" height="8.87" fill="#ec7777"/>
<rect x="237.50" y="293.10" width="3.00" height="8.87" fill="#ec7777"/>
<rect x="240.50" y="293.10" width="3.00" height="8.87" fill="#ec7777"/>
<rect x="258.50" y="293.10" width="3.00" height="8.87" fill="#f09190"/>
<rect x="267.50" y="293.10" width="3.00" height="8.87" fill="#ec7777"/>
<rect x="270.50" y="293.10" width="3.00" height="8.87" fill="#ec7777"/>
<rect x="291.50" y="293.10" width="3.00" height="8.87" fill="#f09190"/>
<rect x="312.50" y="293.10" width="3.00" height="8.87" fill="#e55d60"/>
<rect x="318.50" y="293.10" width="3.00" height="8.87" fill="#e55d60"/>
<rect x="410.50" y="293.10" width="3.00" height="8.87" fill="#f5aca8"/>
<rect x="63.50" y="304.47" width="3.00" height="8.87" fill="#e55d60"/>
<rect x="63.50" y="313.34" width="3.00" height="8.87" fill="#e55d60"/>
<rect x="410.50" y="313.34" width="3.00" height="8.87" fill="#f09190"/>
<rect x="21.50" y="322.21" width="3.00" height="8.87" fill="#ed7e7e"/>
<rect x="24.50" y="322.21" width="3.00" height="8.87" fill="#ec7777"/>
<rect x="27.50" y="322.21" width="3.00" height="8.87" fill="#f08e8c"/>
<rect x="30.50" y="322.21" width="3.00" height="8.87" fill="#ed7e7e"/>
<rect x="33.50" y="322.21" width="3.00" height="8.87" fill="#ee8685"/>
<rect x="36.50" y="322.21" width="3.00" height="8.87" fill="#f08e8c"/>
<rect x="39.50" y="322.21" width="3.00" height="8.87" fill="#ec7777"/>
<rect x="42.50" y="322.21" width="3.00" height="8.87" fill="#ee8685"/>
<rect x="45.50" y="322.21" width="3.00" height="8.87" fill="#ec7777"/>
<rect x="48.50" y="322.21" width="3.00" height="8.87" fill="#f08e8c"/>
<rect x="51.50" y="322.21" width="3.00" height="8.87" fill="#f08e8c"/>
<rect x="54.50" y="322.21" width="3.00" height="8.87" fill="#f08e8c"/>
<rect x="57.50" y="322.21" width="3.00" height="8.87" fill="#f08e8c"/>
<rect x="60.50" y="322.21" width="3.00" height="8.87" fill="#ed7e7e"/>
<rect x="66.50" y="322.21" width="3.00" height="8.87" fill="#f08e8c"/>
<rect x="69.50" y="322.21" width="3.00" height="8.87" fill="#ee8685"/>
<rect x="72.50" y="322.21" width="3.00" height="8.87" fill="#ee8685"/>
<rect x="78.50" y="322.21" width="3.00" height="8.87" fill="#f08e8c"/>
<rect x="84.50" y="322.21" width="3.00" height="8.87" fill="#ec7777"/>
<rect x="87.50" y="322.21" width="3.00" height="8.87" fill="#ed7e7e"/>
<rect x="90.50" y="322.21" width="3.00" height="8.87" fill="#ec7777"/>
<rect x="93.50" y="322.21" width="3.00" height="8.87" fill="#ed7e7e"/>
<rect x="99.50" y="322.21" width="3.00" height="8.87" fill="#ee8685"/>
<rect x="102.50" y="322.21" width="3.00" height="8.87" fill="#ed7e7e"/>
<rect x="105.50" y="322.21" width="3.00" height="8.87" fill="#ed7e7e"/>
<rect x="108.50" y="322.21" width="3.00" height="8.87" fill="#ed7e7e"/>
<rect x="111.50" y="322.21" width="3.00" height="8.87" fill="#f08e8c"/>
<rect x="114.50" y="322.21" width="3.00" height="8.87" fill="#ee8685"/>
<rect x="117.50" y="322.21" width="3.00" height="8.87" fill="#ee8685"/>
<rect x="123.50" y="322.21" width="3.00" height="8.87" fill="#f08e8c"/>
<rect x="126.50" y="322.21" width="3.00" height="8.87" fill="#ed7e7e"/>
<rect x="129.50" y="322.21" width="3.00" height="8.87" fill="#ed7e7e"/>
<rect x="135.50" y="322.21" width="3.00" height="8.87" fill="#f08e8c"/>
<rect x="141.50" y="322.21" width="3.00" height="8.87" fill="#ec7777"/>
<rect x="144.50" y="322.21" width="3.00" height="8.87" fill="#f08e8c"/>
<rect x="150.50" y="322.21" width="3.00" height="8.87" fill="#ec7777"/>
<rect x="153.50" y="322.21" width="3.00" height="8.87" fill="#ec7777"/>
<rect x="156.50" y="322.21" width="3.00" height="8.87" fill="#f08e8c"/>
<rect x="162.50" y="322.21" width="3.00" height="8.87" fill="#ee8685"/>
<rect x="168.50" y="322.21" width="3.00" height="8.87" fill="#f08e8c"/>
<rect x="174.50" y="322.21" width="3.00" height="8.87" fill="#ee8685"/>
<rect x="177.50" y="322.21" width="3.00" height="8.87" fill="#ec7777"/>
<rect x="180.50" y="322.21" width="3.00" height="8.87" fill="#ec7777"/>
<rect x="183.50" y="322.21" width="3.00" height="8.87" fill="#ee8685"/>
<rect x="186.50" y="322.21" width="3.00" height="8.87" fill="#ec7777"/>
<rect x="192.50" y="322.21" width="3.00" height="8.87" fill="#ec7777"/>
<rect x="195.50" y="322.21" width="3.00" height="8.87" fill="#ec7777"/>
<rect x="198.50" y="322.21" width="3.00" height="8.87" fill="#ec7777"/>
<rect x="201.50" y="322.21" width="3.00" height="8.87" fill="#ee8685"/>
<rect x="204.50" y="322.21" width="3.00" height="8.87" fill="#ee8685"/>
<rect x="207.50" y="322.21" width="3.00" height="8.87" fill="#ee8685"/>
<rect x="210.50" y="322.21" width="3.00" height="8.87" fill="#f08e8c"/>
<rect x="216.50" y="322.21" width="3.00" height="8.87" fill="#ed7e7e"/>
<rect x="219.50" y="322.21" width="3.00" height="8.87" fill="#f08e8c"/>
<rect x="225.50" y="322.21" width="3.00" height="8.87" fill="#ed7e7e"/>
<rect x="231.50" y="322.21" width="3.00" height="8.87" fill="#f08e8c"/>
<rect x="234.50" y="322.21" width="3.00" height="8.87" fill="#ec7777"/>
<rect x="240.50" y="322.21" width="3.00" height="8.87" fill="#ec7777"/>
<rect x="252.50" y="322.21" width="3.00" height="8.87" fill="#ee8685"/>
<rect x="255.50" y="322.21" width="3.00" height="8.87" fill="#ee8685"/>
<rect x="258.50" y="322.21" width="3.00" height="8.87" fill="#ee8685"/>
<rect x="261.50" y="322.21" width="3.00" height="8.87" fill="#ed7e7e"/>
<rect x="264.50" y="322.21" width="3.00" height="8.87" fill="#f08e8c"/>
<rect x="267.50" y="322.21" width="3.00" height="8.87" fill="#ee8685"/>
<rect x="270.50" y="322.21" width="3.00" height="8.87" fill="#ed7e7e"/>
<rect x="273.50" y="322.21" width="3.00" height="8.87" fill="#f08e8c"/>
<rect x="276.50" y="322.21" width="3.00" height="8.87" fill="#ec7777"/>
<rect x="279.50" y="322.21" width="3.00" height="8.87" fill="#ed7e7e"/>
<rect x="282.50" y="322.21" width="3.00" height="8.87" fill="#ed7e7e"/>
<rect x="285.50" y="322.21" width="3.00" height="8.87" fill="#f08e8c"/>
<rect x="288.50" y="322.21" width="3.00" height="8.87" fill="#ec7777"/>
<rect x="291.50" y="322.21" width="3.00" height="8.87" fill="#ec7777"/>
<rect x="294.50" y="322.21" width="3.00" height="8.87" fill="#ed7e7e"/>
<rect x="297.50" y="322.21" width="3.00" height="8.87" fill="#ee8685"/>
<rect x="300.50" y="322.21" width="3.00" height="8.87" fill="#ed7e7e"/>
<rect x="303.50" y="322.21" width="3.00" height="8.87" fill="#ec7777"/>
<rect x="315.50" y="322.21" width="3.00" height="8.87" fill="#ee8685"/>
<rect x="318.50" y="322.21" width="3.00" height="8.87" fill="#ed7e7e"/>
<rect x="324.50" y="322.21" width="3.00" height="8.87" fill="#f09190"/>
<rect x="327.50" y="322.21" width="3.00" height="8.87" fill="#f09190"/>
<rect x="330.50" y="322.21" width="3.00" height="8.87" fill="#f09190"/>
<rect x="333.50" y="322.21" width="3.00" height="8.87" fill="#f09190"/>
<rect x="336.50" y="322.21" width="3.00" height="8.87" fill="#f09190"/>
<rect x="410.50" y="322.21" width="3.00" height="8.87" fill="#ec7777"/>
<rect x="21.50" y="331.08" width="3.00" height="8.87" fill="#e86062"/>
<rect x="24.50" y="331.08" width="3.00" height="8.87" fill="#e96869"/>
<rect x="27.50" y="331.08" width="3.00" height="8.87" fill="#e96869"/>
<rect x="30.50" y="331.08" width="3.00" height="8.87" fill="#e96869"/>
<rect x="33.50" y="331.08" width="3.00" height="8.87" fill="#e96869"/>
<rect x="36.50" y="331.08" width="3.00" height="8.87" fill="#de5358"/>
<rect x="39.50" y="331.08" width="3.00" height="8.87" fill="#e96869"/>
<rect x="42.50" y="331.08" width="3.00" height="8.87" fill="#e96869"/>
<rect x="45.50" y="331.08" width="3.00" height="8.87" fill="#e96869"/>
<rect x="48.50" y="331.08" width="3.00" height="8.87" fill="#e86062"/>
<rect x="51.50" y="331.08" width="3.00" height="8.87" fill="#de5358"/>
<rect x="54.50" y="331.08" width="3.00" height="8.87" fill="#e86062"/>
<rect x="57.50" y="331.08" width="3.00" height="8.87" fill="#e86062"/>
<rect x="60.50" y="331.08" width="3.00" height="8.87" fill="#de5358"/>
<rect x="63.50" y="331.08" width="3.00" height="8.87" fill="#e86062"/>
<rect x="66.50" y="331.08" width="3.00" height="8.87" fill="#e35a5d"/>
<rect x="69.50" y="331.08" width="3.00" height="8.87" fill="#e96869"/>
<rect x="72.50" y="331.08" width="3.00" height="8.87" fill="#e35a5d"/>
<rect x="75.50" y="331.08" width="3.00" height="8.87" fill="#e96869"/>
<rect x="78.50" y="331.08" width="3.00" height="8.87" fill="#e96869"/>
<rect x="81.50" y="331.08" width="3.00" height="8.87" fill="#e86062"/>
<rect x="84.50" y="331.08" width="3.00" height="8.87" fill="#de5358"/>
<rect x="87.50" y="331.08" width="3.00" height="8.87" fill="#de5358"/>
<rect x="90.50" y="331.08" width="3.00" height="8.87" fill="#e35a5d"/>
<rect x="93.50" y="331.08" width="3.00" height="8.87" fill="#e86062"/>
<rect x="96.50" y="331.08" width="3.00" height="8.87" fill="#e86062"/>
<rect x="99.50" y="331.08" width="3.00" height="8.87" fill="#e96869"/>
<rect x="102.50" y="331.08" width="3.00" height="8.87" fill="#de5358"/>
<rect x="105.50" y="331.08" width="3.00" height="8.87" fill="#de5358"/>
<rect x="108.50" y="331.08" width="3.00" height="8.87" fill="#e96869"/>
<rect x="111.50" y="331.08" width="3.00" height="8.87" fill="#de5358"/>
<rect x="114.50" y="331.08" width="3.00" height="8.87" fill="#e35a5d"/>
<rect x="117.50" y="331.08" width="3.00" height="8.87" fill="#de5358"/>
<rect x="120.50" y="331.08" width="3.00" height="8.87" fill="#de5358"/>
<rect x="123.50" y="331.08" width="3.00" height="8.87" fill="#e96869"/>
<rect x="126.50" y="331.08" width="3.00" height="8.87" fill="#e35a5d"/>
<rect x="129.50" y="331.08" width="3.00" height="8.87" fill="#de5358"/>
<rect x="132.50" y="331.08" width="3.00" height="8.87" fill="#de5358"/>
<rect x="135.50" y="331.08" width="3.00" height="8.87" fill="#e96869"/>
<rect x="138.50" y="331.08" width="3.00" height="8.87" fill="#e35a5d"/>
<rect x="141.50" y="331.08" width="3.00" height="8.87" fill="#e96869"/>
<rect x="144.50" y="331.08" width="3.00" height="8.87" fill="#e35a5d"/>
<rect x="150.50" y="331.08" width="3.00" height="8.87" fill="#e35a5d"/>
<rect x="153.50" y="331.08" width="3.00" height="8.87" fill="#e35a5d"/>
<rect x="156.50" y="331.08" width="3.00" height="8.87" fill="#de5358"/>
<rect x="159.50" y="331.08" width="3.00" height="8.87" fill="#e35a5d"/>
<rect x="162.50" y="331.08" width="3.00" height="8.87" fill="#e96869"/>
<rect x="165.50" y="331.08" width="3.00" height="8.87" fill="#de5358"/>
<rect x="168.50" y="331.08" width="3.00" height="8.87" fill="#e86062"/>
<rect x="171.50" y="331.08" width="3.00" height="8.87" fill="#e35a5d"/>
<rect x="174.50" y="331.08" width="3.00" height="8.87" fill="#e86062"/>
<rect x="177.50" y="331.08" width="3.00" height="8.87" fill="#de5358"/>
<rect x="180.50" y="331.08" width="3.00" height="8.87" fill="#e96869"/>
<rect x="183.50" y="331.08" width="3.00" height="8.87" fill="#de5358"/>
<rect x="186.50" y="331.08" width="3.00" height="8.87" fill="#e35a5d"/>
<rect x="189.50" y="331.08" width="3.00" height="8.87" fill="#e86062"/>
<rect x="192.50" y="331.08" width="3.00" height="8.87" fill="#e35a5d"/>
<rect x="195.50" y="331.08" width="3.00" height="8.87" fill="#e35a5d"/>
<rect x="198.50" y="331.08" width="3.00" height="8.87" fill="#e86062"/>
<rect x="201.50" y="331.08" width="3.00" height="8.87" fill="#e96869"/>
<rect x="204.50" y="331.08" width="3.00" height="8.87" fill="#e86062"/>
<rect x="207.50" y="331.08" width="3.00" height="8.87" fill="#e86062"/>
<rect x="210.50" y="331.08" width="3.00" height="8.87" fill="#de5358"/>
<rect x="213.50" y="331.08" width="3.00" height="8.87" fill="#e86062"/>
<rect x="216.50" y="331.08" width="3.00" height="8.87" fill="#e35a5d"/>
<rect x="219.50" y="331.08" width="3.00" height="8.87" fill="#e86062"/>
<rect x="222.50" y="331.08" width="3.00" height="8.87" fill="#de5358"/>
<rect x="225.50" y="331.08" width="3.00" height="8.87" fill="#e35a5d"/>
<rect x="228.50" y="331.08" width="3.00" height="8.87" fill="#e86062"/>
<rect x="231.50" y="331.08" width="3.00" height="8.87" fill="#de5358"/>
<rect x="234.50" y="331.08" width="3.00" height="8.87" fill="#de5358"/>
<rect x="237.50" y="331.08" width="3.00" height="8.87" fill="#de5358"/>
<rect x="240.50" y="331.08" width="3.00" height="8.87" fill="#e96869"/>
<rect x="243.50" y="331.08" width="3.00" height="8.87" fill="#de5358"/>
<rect x="246.50" y="331.08" width="3.00" height="8.87" fill="#de5358"/>
<rect x="249.50" y="331.08" width="3.00" height="8.87" fill="#e96869"/>
<rect x="252.50" y="331.08" width="3.00" height="8.87" fill="#e96869"/>
<rect x="255.50" y="331.08" width="3.00" height="8.87" fill="#de5358"/>
<rect x="258.50" y="331.08" width="3.00" height="8.87" fill="#e96869"/>
<rect x="261.50" y="331.08" width="3.00" height="8.87" fill="#e96869"/>
<rect x="264.50" y="331.08" width="3.00" height="8.87" fill="#e96869"/>
<rect x="267.50" y="331.08" width="3.00" height="8.87" fill="#e96869"/>
<rect x="270.50" y="331.08" width="3.00" height="8.87" fill="#e96869"/>
<rect x="273.50" y="331.08" width="3.00" height="8.87" fill="#e86062"/>
<rect x="276.50" y="331.08" width="3.00" height="8.87" fill="#e86062"/>
<rect x="279.50" y="331.08" width="3.00" height="8.87" fill="#e35a5d"/>
<rect x="282.50" y="331.08" width="3.00" height="8.87" fill="#de5358"/>
<rect x="285.50" y="331.08" width="3.00" height="8.87" fill="#e96869"/>
<rect x="288.50" y="331.08" width="3.00" height="8.87" fill="#de5358"/>
<rect x="291.50" y="331.08" width="3.00" height="8.87" fill="#de5358"/>
<rect x="294.50" y="331.08" width="3.00" height="8.87" fill="#e96869"/>
<rect x="297.50" y="331.08" width="3.00" height="8.87" fill="#e96869"/>
<rect x="300.50" y="331.08" width="3.00" height="8.87" fill="#e35a5d"/>
<rect x="303.50" y="331.08" width="3.00" height="8.87" fill="#e86062"/>
<rect x="306.50" y="331.08" width="3.00" height="8.87" fill="#e96869"/>
<rect x="309.50" y="331.08" width="3.00" height="8.87" fill="#e86062"/>
<rect x="312.50" y="331.08" width="3.00" height="8.87" fill="#e35a5d"/>
<rect x="315.50" y="331.08" width="3.00" height="8.87" fill="#e96869"/>
<rect x="318.50" y="331.08" width="3.00" height="8.87" fill="#e96869"/>
<rect x="324.50" y="331.08" width="3.00" height="8.87" fill="#ec7777"/>
<rect x="327.50" y="331.08" width="3.00" height="8.87" fill="#ec7777"/>
<rect x="330.50" y="331.08" width="3.00" height="8.87" fill="#ec7777"/>
<rect x="333.50" y="331.08" width="3.00" height="8.87" fill="#ec7777"/>
<rect x="336.50" y="331.08" width="3.00" height="8.87" fill="#ec7777"/>
<rect x="410.50" y="331.08" width="3.00" height="8.87" fill="#e55d60"/>
<rect x="63.50" y="342.45" width="3.00" height="8.87" fill="#ec7777"/>
<rect x="410.50" y="342.45" width="3.00" height="8.87" fill="#ec7777"/>
<path d="M21.50 22.00v177.40M24.50 22.00v177.40M27.50 22.00v177.40M30.50 22.00v177.40M33.50 22.00v177.40M36.50 22.00v177.40M39.50 22.00v177.40M42.50 22.00v177.40M45.50 22.00v177.40M48.50 22.00v177.40M51.50 22.00v177.40M54.50 22.00v177.40M57.50 22.00v177.40M60.50 22.00v177.40M63.50 22.00v177.40M66.50 22.00v177.40M69.50 22.00v177.40M72.50 22.00v177.40M75.50 22.00v177.40M78.50 22.00v177.40M81.50 22.00v177.40M84.50 22.00v177.40M87.50 22.00v177.40M90.50 22.00v177.40M93.50 22.00v177.40M96.50 22.00v177.40M99.50 22.00v177.40M102.50 22.00v177.40M105.50 22.00v177.40M108.50 22.00v177.40M111.50 22.00v177.40M114.50 22.00v177.40M117.50 22.00v177.40M120.50 22.00v177.40M123.50 22.00v177.40M126.50 22.00v177.40M129.50 22.00v177.40M132.50 22.00v177.40M135.50 22.00v177.40M138.50 22.00v177.40M141.50 22.00v177.40M144.50 22.00v177.40M147.50 22.00v177.40M150.50 22.00v177.40M153.50 22.00v177.40M156.50 22.00v177.40M159.50 22.00v177.40M162.50 22.00v177.40M165.50 22.00v177.40M168.50 22.00v177.40M171.50 22.00v177.40M174.50 22.00v177.40M177.50 22.00v177.40M180.50 22.00v177.40M183.50 22.00v177.40M186.50 22.00v177.40M189.50 22.00v177.40M192.50 22.00v177.40M195.50 22.00v177.40M198.50 22.00v177.40M201.50 22.00v177.40M204.50 22.00v177.40M207.50 22.00v177.40M210.50 22.00v177.40M213.50 22.00v177.40M216.50 22.00v177.40M219.50 22.00v177.40M222.50 22.00v177.40M225.50 22.00v177.40M228.50 22.00v177.40M231.50 22.00v177.40M234.50 22.00v177.40M237.50 22.00v177.40M240.50 22.00v177.40M243.50 22.00v177.40M246.50 22.00v177.40M249.50 22.00v177.40M252.50 22.00v177.40M255.50 22.00v177.40M258.50 22.00v177.40M261.50 22.00v177.40M264.50 22.00v177.40M267.50 22.00v177.40M270.50 22.00v177.40M273.50 22.00v177.40M276.50 22.00v177.40M279.50 22.00v177.40M282.50 22.00v177.40M285.50 22.00v177.40M288.50 22.00v177.40M291.50 22.00v177.40M294.50 22.00v177.40M297.50 22.00v177.40M300.50 22.00v177.40M303.50 22.00v177.40M306.50 22.00v177.40M309.50 22.00v177.40M312.50 22.00v177.40M315.50 22.00v177.40M318.50 22.00v177.40M321.50 22.00v177.40M324.50 22.00v177.40M327.50 22.00v177.40M330.50 22.00v177.40M333.50 22.00v177.40M336.50 22.00v177.40M339.50 22.00v177.40M342.50 22.00v177.40M345.50 22.00v177.40M348.50 22.00v177.40M351.50 22.00v177.40M354.50 22.00v177.40M357.50 22.00v177.40M360.50 22.00v177.40M363.50 22.00v177.40M366.50 22.00v177.40M368.50 22.00v177.40M371.50 22.00v177.40M374.50 22.00v177.40M377.50 22.00v177.40M380.50 22.00v177.40M383.50 22.00v177.40M386.50 22.00v177.40M389.50 22.00v177.40M392.50 22.00v177.40M395.50 22.00v177.40M398.50 22.00v177.40M401.50 22.00v177.40M404.50 22.00v177.40M407.50 22.00v177.40M410.50 22.00v177.40M413.50 22.00v177.40M21.50 201.90v53.22M24.50 201.90v53.22M27.50 201.90v53.22M30.50 201.90v53.22M33.50 201.90v53.22M36.50 201.90v53.22M39.50 201.90v53.22M42.50 201.90v53.22M45.50 201.90v53.22M48.50 201.90v53.22M51.50 201.90v53.22M54.50 201.90v53.22M57.50 201.90v53.22M60.50 201.90v53.22M63.50 201.90v53.22M66.50 201.90v53.22M69.50 201.90v53.22M72.50 201.90v53.22M75.50 201.90v53.22M78.50 201.90v53.22M81.50 201.90v53.22M84.50 201.90v53.22M87.50 201.90v53.22M90.50 201.90v53.22M93.50 201.90v53.22M96.50 201.90v53.22M99.50 201.90v53.22M102.50 201.90v53.22M105.50 201.90v53.22M108.50 201.90v53.22M111.50 201.90v53.22M114.50 201.90v53.22M117.50 201.90v53.22M120.50 201.90v53.22M123.50 201.90v53.22M126.50 201.90v53.22M129.50 201.90v53.22M132.50 201.90v53.22M135.50 201.90v53.22M138.50 201.90v53.22M141.50 201.90v53.22M144.50 201.90v53.22M147.50 201.90v53.22M150.50 201.90v53.22M153.50 201.90v53.22M156.50 201.90v53.22M159.50 201.90v53.22M162.50 201.90v53.22M165.50 201.90v53.22M168.50 201.90v53.22M171.50 201.90v53.22M174.50 201.90v53.22M177.50 201.90v53.22M180.50 201.90v53.22M183.50 201.90v53.22M186.50 201.90v53.22M189.50 201.90v53.22M192.50 201.90v53.22M195.50 201.90v53.22M198.50 201.90v53.22M201.50 201.90v53.22M204.50 201.90v53.22M207.50 201.90v53.22M210.50 201.90v53.22M213.50 201.90v53.22M216.50 201.90v53.22M219.50 201.90v53.22M222.50 201.90v53.22M225.50 201.90v53.22M228.50 201.90v53.22M231.50 201.90v53.22M234.50 201.90v53.22M237.50 201.90v53.22M240.50 201.90v53.22M243.50 201.90v53.22M246.50 201.90v53.22M249.50 201.90v53.22M252.50 201.90v53.22M255.50 201.90v53.22M258.50 201.90v53.22M261.50 201.90v53.22M264.50 201.90v53.22M267.50 201.90v53.22M270.50 201.90v53.22M273.50 201.90v53.22M276.50 201.90v53.22M279.50 201.90v53.22M282.50 201.90v53.22M285.50 201.90v53.22M288.50 201.90v53.22M291.50 201.90v53.22M294.50 201.90v53.22M297.50 201.90v53.22M300.50 201.90v53.22M303.50 201.90v53.22M306.50 201.90v53.22M309.50 201.90v53.22M312.50 201.90v53.22M315.50 201.90v53.22M318.50 201.90v53.22M321.50 201.90v53.22M324.50 201.90v53.22M327.50 201.90v53.22M330.50 201.90v53.22M333.50 201.90v53.22M336.50 201.90v53.22M339.50 201.90v53.22M342.50 201.90v53.22M345.50 201.90v53.22M348.50 201.90v53.22M351.50 201.90v53.22M354.50 201.90v53.22M357.50 201.90v53.22M360.50 201.90v53.22M363.50 201.90v53.22M366.50 201.90v53.22M368.50 201.90v53.22M371.50 201.90v53.22M374.50 201.90v53.22M377.50 201.90v53.22M380.50 201.90v53.22M383.50 201.90v53.22M386.50 201.90v53.22M389.50 201.90v53.22M392.50 201.90v53.22M395.50 201.90v53.22M398.50 201.90v53.22M401.50 201.90v53.22M404.50 201.90v53.22M407.50 201.90v53.22M410.50 201.90v53.22M413.50 201.90v53.22M21.50 257.62v44.35M24.50 257.62v44.35M27.50 257.62v44.35M30.50 257.62v44.35M33.50 257.62v44.35M36.50 257.62v44.35M39.50 257.62v44.35M42.50 257.62v44.35M45.50 257.62v44.35M48.50 257.62v44.35M51.50 257.62v44.35M54.50 257.62v44.35M57.50 257.62v44.35M60.50 257.62v44.35M63.50 257.62v44.35M66.50 257.62v44.35M69.50 257.62v44.35M72.50 257.62v44.35M75.50 257.62v44.35M78.50 257.62v44.35M81.50 257.62v44.35M84.50 257.62v44.35M87.50 257.62v44.35M90.50 257.62v44.35M93.50 257.62v44.35M96.50 257.62v44.35M99.50 257.62v44.35M102.50 257.62v44.35M105.50 257.62v44.35M108.50 257.62v44.35M111.50 257.62v44.35M114.50 257.62v44.35M117.50 257.62v44.35M120.50 257.62v44.35M123.50 257.62v44.35M126.50 257.62v44.35M129.50 257.62v44.35M132.50 257.62v44.35M135.50 257.62v44.35M138.50 257.62v44.35M141.50 257.62v44.35M144.50 257.62v44.35M147.50 257.62v44.35M150.50 257.62v44.35M153.50 257.62v44.35M156.50 257.62v44.35M159.50 257.62v44.35M162.50 257.62v44.35M165.50 257.62v44.35M168.50 257.62v44.35M171.50 257.62v44.35M174.50 257.62v44.35M177.50 257.62v44.35M180.50 257.62v44.35M183.50 257.62v44.35M186.50 257.62v44.35M189.50 257.62v44.35M192.50 257.62v44.35M195.50 257.62v44.35M198.50 257.62v44.35M201.50 257.62v44.35M204.50 257.62v44.35M207.50 257.62v44.35M210.50 257.62v44.35M213.50 257.62v44.35M216.50 257.62v44.35M219.50 257.62v44.35M222.50 257.62v44.35M225.50 257.62v44.35M228.50 257.62v44.35M231.50 257.62v44.35M234.50 257.62v44.35M237.50 257.62v44.35M240.50 257.62v44.35M243.50 257.62v44.35M246.50 257.62v44.35M249.50 257.62v44.35M252.50 257.62v44.35M255.50 257.62v44.35M258.50 257.62v44.35M261.50 257.62v44.35M264.50 257.62v44.35M267.50 257.62v44.35M270.50 257.62v44.35M273.50 257.62v44.35M276.50 257.62v44.35M279.50 257.62v44.35M282.50 257.62v44.35M285.50 257.62v44.35M288.50 257.62v44.35M291.50 257.62v44.35M294.50 257.62v44.35M297.50 257.62v44.35M300.50 257.62v44.35M303.50 257.62v44.35M306.50 257.62v44.35M309.50 257.62v44.35M312.50 257.62v44.35M315.50 257.62v44.35M318.50 257.62v44.35M321.50 257.62v44.35M324.50 257.62v44.35M327.50 257.62v44.35M330.50 257.62v44.35M333.50 257.62v44.35M336.50 257.62v44.35M339.50 257.62v44.35M342.50 257.62v44.35M345.50 257.62v44.35M348.50 257.62v44.35M351.50 257.62v44.35M354.50 257.62v44.35M357.50 257.62v44.35M360.50 257.62v44.35M363.50 257.62v44.35M366.50 257.62v44.35M368.50 257.62v44.35M371.50 257.62v44.35M374.50 257.62v44.35M377.50 257.62v44.35M380.50 257.62v44.35M383.50 257.62v44.35M386.50 257.62v44.35M389.50 257.62v44.35M392.50 257.62v44.35M395.50 257.62v44.35M398.50 257.62v44.35M401.50 257.62v44.35M404.50 257.62v44.35M407.50 257.62v44.35M410.50 257.62v44.35M413.50 257.62v44.35M21.50 304.47v35.48M24.50 304.47v35.48M27.50 304.47v35.48M30.50 304.47v35.48M33.50 304.47v35.48M36.50 304.47v35.48M39.50 304.47v35.48M42.50 304.47v35.48M45.50 304.47v35.48M48.50 304.47v35.48M51.50 304.47v35.48M54.50 304.47v35.48M57.50 304.47v35.48M60.50 304.47v35.48M63.50 304.47v35.48M66.50 304.47v35.48M69.50 304.47v35.48M72.50 304.47v35.48M75.50 304.47v35.48M78.50 304.47v35.48M81.50 304.47v35.48M84.50 304.47v35.48M87.50 304.47v35.48M90.50 304.47v35.48M93.50 304.47v35.48M96.50 304.47v35.48M99.50 304.47v35.48M102.50 304.47v35.48M105.50 304.47v35.48M108.50 304.47v35.48M111.50 304.47v35.48M114.50 304.47v35.48M117.50 304.47v35.48M120.50 304.47v35.48M123.50 304.47v35.48M126.50 304.47v35.48M129.50 304.47v35.48M132.50 304.47v35.48M135.50 304.47v35.48M138.50 304.47v35.48M141.50 304.47v35.48M144.50 304.47v35.48M147.50 304.47v35.48M150.50 304.47v35.48M153.50 304.47v35.48M156.50 304.47v35.48M159.50 304.47v35.48M162.50 304.47v35.48M165.50 304.47v35.48M168.50 304.47v35.48M171.50 304.47v35.48M174.50 304.47v35.48M177.50 304.47v35.48M180.50 304.47v35.48M183.50 304.47v35.48M186.50 304.47v35.48M189.50 304.47v35.48M192.50 304.47v35.48M195.50 304.47v35.48M198.50 304.47v35.48M201.50 304.47v35.48M204.50 304.47v35.48M207.50 304.47v35.48M210.50 304.47v35.48M213.50 304.47v35.48M216.50 304.47v35.48M219.50 304.47v35.48M222.50 304.47v35.48M225.50 304.47v35.48M228.50 304.47v35.48M231.50 304.47v35.48M234.50 304.47v35.48M237.50 304.47v35.48M240.50 304.47v35.48M243.50 304.47v35.48M246.50 304.47v35.48M249.50 304.47v35.48M252.50 304.47v35.48M255.50 304.47v35.48M258.50 304.47v35.48M261.50 304.47v35.48M264.50 304.47v35.48M267.50 304.47v35.48M270.50 304.47v35.48M273.50 304.47v35.48M276.50 304.47v35.48M279.50 304.47v35.48M282.50 304.47v35.48M285.50 304.47v35.48M288.50 304.47v35.48M291.50 304.47v35.48M294.50 304.47v35.48M297.50 304.47v35.48M300.50 304.47v35.48M303.50 304.47v35.48M306.50 304.47v35.48M309.50 304.47v35.48M312.50 304.47v35.48M315.50 304.47v35.48M318.50 304.47v35.48M321.50 304.47v35.48M324.50 304.47v35.48M327.50 304.47v35.48M330.50 304.47v35.48M333.50 304.47v35.48M336.50 304.47v35.48M339.50 304.47v35.48M342.50 304.47v35.48M345.50 304.47v35.48M348.50 304.47v35.48M351.50 304.47v35.48M354.50 304.47v35.48M357.50 304.47v35.48M360.50 304.47v35.48M363.50 304.47v35.48M366.50 304.47v35.48M368.50 304.47v35.48M371.50 304.47v35.48M374.50 304.47v35.48M377.50 304.47v35.48M380.50 304.47v35.48M383.50 304.47v35.48M386.50 304.47v35.48M389.50 304.47v35.48M392.50 304.47v35.48M395.50 304.47v35.48M398.50 304.47v35.48M401.50 304.47v35.48M404.50 304.47v35.48M407.50 304.47v35.48M410.50 304.47v35.48M413.50 304.47v35.48M21.50 342.45v8.87M24.50 342.45v8.87M27.50 342.45v8.87M30.50 342.45v8.87M33.50 342.45v8.87M36.50 342.45v8.87M39.50 342.45v8.87M42.50 342.45v8.87M45.50 342.45v8.87M48.50 342.45v8.87M51.50 342.45v8.87M54.50 342.45v8.87M57.50 342.45v8.87M60.50 342.45v8.87M63.50 342.45v8.87M66.50 342.45v8.87M69.50 342.45v8.87M72.50 342.45v8.87M75.50 342.45v8.87M78.50 342.45v8.87M81.50 342.45v8.87M84.50 342.45v8.87M87.50 342.45v8.87M90.50 342.45v8.87M93.50 342.45v8.87M96.50 342.45v8.87M99.50 342.45v8.87M102.50 342.45v8.87M105.50 342.45v8.87M108.50 342.45v8.87M111.50 342.45v8.87M114.50 342.45v8.87M117.50 342.45v8.87M120.50 342.45v8.87M123.50 342.45v8.87M126.50 342.45v8.87M129.50 342.45v8.87M132.50 342.45v8.87M135.50 342.45v8.87M138.50 342.45v8.87M141.50 342.45v8.87M144.50 342.45v8.87M147.50 342.45v8.87M150.50 342.45v8.87M153.50 342.45v8.87M156.50 342.45v8.87M159.50 342.45v8.87M162.50 342.45v8.87M165.50 342.45v8.87M168.50 342.45v8.87M171.50 342.45v8.87M174.50 342.45v8.87M177.50 342.45v8.87M180.50 342.45v8.87M183.50 342.45v8.87M186.50 342.45v8.87M189.50 342.45v8.87M192.50 342.45v8.87M195.50 342.45v8.87M198.50 342.45v8.87M201.50 342.45v8.87M204.50 342.45v8.87M207.50 342.45v8.87M210.50 342.45v8.87M213.50 342.45v8.87M216.50 342.45v8.87M219.50 342.45v8.87M222.50 342.45v8.87M225.50 342.45v8.87M228.50 342.45v8.87M231.50 342.45v8.87M234.50 342.45v8.87M237.50 342.45v8.87M240.50 342.45v8.87M243.50 342.45v8.87M246.50 342.45v8.87M249.50 342.45v8.87M252.50 342.45v8.87M255.50 342.45v8.87M258.50 342.45v8.87M261.50 342.45v8.87M264.50 342.45v8.87M267.50 342.45v8.87M270.50 342.45v8.87M273.50 342.45v8.87M276.50 342.45v8.87M279.50 342.45v8.87M282.50 342.45v8.87M285.50 342.45v8.87M288.50 342.45v8.87M291.50 342.45v8.87M294.50 342.45v8.87M297.50 342.45v8.87M300.50 342.45v8.87M303.50 342.45v8.87M306.50 342.45v8.87M309.50 342.45v8.87M312.50 342.45v8.87M315.50 342.45v8.87M318.50 342.45v8.87M321.50 342.45v8.87M324.50 342.45v8.87M327.50 342.45v8.87M330.50 342.45v8.87M333.50 342.45v8.87M336.50 342.45v8.87M339.50 342.45v8.87M342.50 342.45v8.87M345.50 342.45v8.87M348.50 342.45v8.87M351.50 342.45v8.87M354.50 342.45v8.87M357.50 342.45v8.87M360.50 342.45v8.87M363.50 342.45v8.87M366.50 342.45v8.87M368.50 342.45v8.87M371.50 342.45v8.87M374.50 342.45v8.87M377.50 342.45v8.87M380.50 342.45v8.87M383.50 342.45v8.87M386.50 342.45v8.87M389.50 342.45v8.87M392.50 342.45v8.87M395.50 342.45v8.87M398.50 342.45v8.87M401.50 342.45v8.87M404.50 342.45v8.87M407.50 342.45v8.87M410.50 342.45v8.87M413.50 342.45v8.87M21 22.00H414M21 30.87H414M21 39.74H414M21 48.61H414M21 57.48H414M21 66.35H414M21 75.22H414M21 84.09H414M21 92.96H414M21 101.83H414M21 110.70H414M21 119.57H414M21 128.44H414M21 137.31H414M21 146.18H414M21 155.05H414M21 163.92H414M21 172.79H414M21 181.66H414M21 190.53H414M21 199.40H414M21 201.90H414M21 210.77H414M21 219.64H414M21 228.51H414M21 237.38H414M21 246.25H414M21 255.12H414M21 257.62H414M21 266.49H414M21 275.36H414M21 284.23H414M21 293.10H414M21 301.97H414M21 304.47H414M21 313.34H414M21 322.21H414M21 331.08H414M21 339.95H414M21 342.45H414M21 351.32H414" stroke="#f4f4f4" stroke-width="1" fill="none" opacity="0.35" shape-rendering="crispEdges"/>
<rect x="415.6" y="22.00" width="13.2" height="177.40" fill="#A8C4E6"/>
<rect x="415.6" y="201.90" width="13.2" height="53.22" fill="#C9939B"/>
<rect x="415.6" y="257.62" width="13.2" height="44.35" fill="#F9D4AD"/>
<rect x="415.6" y="304.47" width="13.2" height="35.48" fill="#92CCAA"/>
<rect x="415.6" y="342.45" width="13.2" height="8.87" fill="#CBC3DF"/>
<rect x="429.5" y="22.30" width="26.0" height="176.80" fill="#fff" stroke="#000" stroke-width="1.2"/>
<rect x="429.5" y="202.20" width="26.0" height="52.62" fill="#fff" stroke="#000" stroke-width="1.2"/>
<rect x="429.5" y="257.92" width="26.0" height="43.75" fill="#fff" stroke="#000" stroke-width="1.2"/>
<rect x="429.5" y="304.77" width="26.0" height="34.88" fill="#fff" stroke="#000" stroke-width="1.2"/>
<rect x="429.5" y="342.75" width="26.0" height="8.27" fill="#fff" stroke="#000" stroke-width="1.2"/>
<rect x="429.5" y="23.50" width="0.90" height="5.87" fill="#A8C4E6" stroke="#000" stroke-width="1"/>
<rect x="429.5" y="32.37" width="0.90" height="5.87" fill="#A8C4E6" stroke="#000" stroke-width="1"/>
<rect x="429.5" y="41.24" width="0.90" height="5.87" fill="#A8C4E6" stroke="#000" stroke-width="1"/>
<rect x="429.5" y="50.11" width="0.90" height="5.87" fill="#A8C4E6" stroke="#000" stroke-width="1"/>
<rect x="429.5" y="58.98" width="0.90" height="5.87" fill="#A8C4E6" stroke="#000" stroke-width="1"/>
<rect x="429.5" y="67.85" width="0.90" height="5.87" fill="#A8C4E6" stroke="#000" stroke-width="1"/>
<rect x="429.5" y="76.72" width="0.90" height="5.87" fill="#A8C4E6" stroke="#000" stroke-width="1"/>
<rect x="429.5" y="85.59" width="0.90" height="5.87" fill="#A8C4E6" stroke="#000" stroke-width="1"/>
<rect x="429.5" y="94.46" width="1.00" height="5.87" fill="#A8C4E6" stroke="#000" stroke-width="1"/>
<rect x="429.5" y="103.33" width="1.00" height="5.87" fill="#A8C4E6" stroke="#000" stroke-width="1"/>
<rect x="429.5" y="112.20" width="1.00" height="5.87" fill="#A8C4E6" stroke="#000" stroke-width="1"/>
<rect x="429.5" y="121.07" width="1.00" height="5.87" fill="#A8C4E6" stroke="#000" stroke-width="1"/>
<rect x="429.5" y="129.94" width="1.10" height="5.87" fill="#A8C4E6" stroke="#000" stroke-width="1"/>
<rect x="429.5" y="138.81" width="1.10" height="5.87" fill="#A8C4E6" stroke="#000" stroke-width="1"/>
<rect x="429.5" y="147.68" width="1.50" height="5.87" fill="#A8C4E6" stroke="#000" stroke-width="1"/>
<rect x="429.5" y="156.55" width="2.30" height="5.87" fill="#A8C4E6" stroke="#000" stroke-width="1"/>
<rect x="429.5" y="165.42" width="2.30" height="5.87" fill="#A8C4E6" stroke="#000" stroke-width="1"/>
<rect x="429.5" y="174.29" width="1.80" height="5.87" fill="#A8C4E6" stroke="#000" stroke-width="1"/>
<rect x="429.5" y="183.16" width="10.20" height="5.87" fill="#A8C4E6" stroke="#000" stroke-width="1"/>
<rect x="429.5" y="192.03" width="15.30" height="5.87" fill="#A8C4E6" stroke="#000" stroke-width="1"/>
<rect x="429.5" y="203.40" width="0.90" height="5.87" fill="#C9939B" stroke="#000" stroke-width="1"/>
<rect x="429.5" y="212.27" width="0.90" height="5.87" fill="#C9939B" stroke="#000" stroke-width="1"/>
<rect x="429.5" y="221.14" width="0.90" height="5.87" fill="#C9939B" stroke="#000" stroke-width="1"/>
<rect x="429.5" y="230.01" width="1.00" height="5.87" fill="#C9939B" stroke="#000" stroke-width="1"/>
<rect x="429.5" y="238.88" width="1.20" height="5.87" fill="#C9939B" stroke="#000" stroke-width="1"/>
<rect x="429.5" y="247.75" width="7.20" height="5.87" fill="#C9939B" stroke="#000" stroke-width="1"/>
<rect x="429.5" y="259.12" width="0.90" height="5.87" fill="#F9D4AD" stroke="#000" stroke-width="1"/>
<rect x="429.5" y="267.99" width="1.00" height="5.87" fill="#F9D4AD" stroke="#000" stroke-width="1"/>
<rect x="429.5" y="276.86" width="1.10" height="5.87" fill="#F9D4AD" stroke="#000" stroke-width="1"/>
<rect x="429.5" y="285.73" width="4.20" height="5.87" fill="#F9D4AD" stroke="#000" stroke-width="1"/>
<rect x="429.5" y="294.60" width="12.20" height="5.87" fill="#F9D4AD" stroke="#000" stroke-width="1"/>
<rect x="429.5" y="305.97" width="1.00" height="5.87" fill="#92CCAA" stroke="#000" stroke-width="1"/>
<rect x="429.5" y="314.84" width="1.30" height="5.87" fill="#92CCAA" stroke="#000" stroke-width="1"/>
<rect x="429.5" y="323.71" width="19.30" height="5.87" fill="#92CCAA" stroke="#000" stroke-width="1"/>
<rect x="429.5" y="332.58" width="25.00" height="5.87" fill="#92CCAA" stroke="#000" stroke-width="1"/>
<rect x="429.5" y="343.95" width="0.50" height="5.87" fill="#CBC3DF" stroke="#000" stroke-width="1"/>
<path d="M429.5 351.5H453.4M429.50 351.5v3.2M435.48 351.5v3.2M441.46 351.5v3.2M447.44 351.5v3.2M453.42 351.5v3.2" stroke="#000" stroke-width="1" fill="none"/>
<text transform="translate(427.90,357.4) rotate(90)" font-size="6" letter-spacing="2.0" fill="#000">0</text>
<text transform="translate(433.88,357.4) rotate(90)" font-size="6" letter-spacing="2.0" fill="#000">20</text>
<text transform="translate(439.86,357.4) rotate(90)" font-size="6" letter-spacing="2.0" fill="#000">40</text>
<text transform="translate(445.84,357.4) rotate(90)" font-size="6" letter-spacing="2.0" fill="#000">60</text>
<text transform="translate(451.82,357.4) rotate(90)" font-size="6" letter-spacing="2.0" fill="#000">80</text>
<text transform="translate(423.8,357.7) rotate(-32)" text-anchor="end" font-size="10.5" fill="#000">Phylum</text>
<text x="459" y="30.73" font-size="10.2" font-style="italic" letter-spacing="0.13" word-spacing="-0.9" fill="#000">Granulicatella</text>
<text x="459" y="39.60" font-size="10.2" font-style="italic" letter-spacing="0.13" word-spacing="-0.9" fill="#000">Mammaliicoccus</text>
<text x="459" y="48.47" font-size="10.2" font-style="italic" letter-spacing="0.13" word-spacing="-0.9" fill="#000">Peptostreptococcus</text>
<text x="459" y="57.34" font-size="10.2" font-style="italic" letter-spacing="0.13" word-spacing="-0.9" fill="#000">Veillonella</text>
<text x="459" y="66.22" font-size="10.2" font-style="italic" letter-spacing="0.13" word-spacing="-0.9" fill="#000">Zhenhengia</text>
<text x="459" y="75.08" font-size="10.2" font-style="italic" letter-spacing="0.13" word-spacing="-0.9" fill="#000">Lachnoclost ridium</text>
<text x="459" y="83.95" font-size="10.2" font-style="italic" letter-spacing="0.13" word-spacing="-0.9" fill="#000">Romboutsia</text>
<text x="459" y="92.83" font-size="10.2" font-style="italic" letter-spacing="0.13" word-spacing="-0.9" fill="#000">Terrisporobacter</text>
<text x="459" y="101.69" font-size="10.2" font-style="italic" letter-spacing="0.13" word-spacing="-0.9" fill="#000">Clost ridium</text>
<text x="459" y="110.56" font-size="10.2" font-style="italic" letter-spacing="0.13" word-spacing="-0.9" fill="#000">Enterococcus</text>
<text x="459" y="119.43" font-size="10.2" font-style="italic" letter-spacing="0.13" word-spacing="-0.9" fill="#000">Streptococcus</text>
<text x="459" y="128.31" font-size="10.2" font-style="italic" letter-spacing="0.13" word-spacing="-0.9" fill="#000">Allopr evotella</text>
<text x="459" y="137.18" font-size="10.2" font-style="italic" letter-spacing="0.13" word-spacing="-0.9" fill="#000">Lysinibacillus</text>
<text x="459" y="146.05" font-size="10.2" font-style="italic" letter-spacing="0.13" word-spacing="-0.9" fill="#000">Peribacillus</text>
<text x="459" y="154.92" font-size="10.2" font-style="italic" letter-spacing="0.13" word-spacing="-0.9" fill="#000">Limosilactobacillus</text>
<text x="459" y="163.78" font-size="10.2" font-style="italic" letter-spacing="0.13" word-spacing="-0.9" fill="#000">Psychrobacillus</text>
<text x="459" y="172.66" font-size="10.2" font-style="italic" letter-spacing="0.13" word-spacing="-0.9" fill="#000">Vagococcus</text>
<text x="459" y="181.53" font-size="10.2" font-style="italic" letter-spacing="0.13" word-spacing="-0.9" fill="#000">Caryophanon</text>
<text x="459" y="190.40" font-size="10.2" font-style="italic" letter-spacing="0.13" word-spacing="-0.9" fill="#000">Ligilactobacillus</text>
<text x="459" y="199.26" font-size="10.2" font-style="italic" letter-spacing="0.13" word-spacing="-0.9" fill="#000">Ruminococcus</text>
<text x="459" y="210.64" font-size="10.2" font-style="italic" letter-spacing="0.13" word-spacing="-0.9" fill="#000">Arthrobacter</text>
<text x="459" y="219.51" font-size="10.2" font-style="italic" letter-spacing="0.13" word-spacing="-0.9" fill="#000">Rothia</text>
<text x="459" y="228.38" font-size="10.2" font-style="italic" letter-spacing="0.13" word-spacing="-0.9" fill="#000">Rhodococcus</text>
<text x="459" y="237.25" font-size="10.2" font-style="italic" letter-spacing="0.13" word-spacing="-0.9" fill="#000">Paeniglutamicibacter</text>
<text x="459" y="246.12" font-size="10.2" font-style="italic" letter-spacing="0.13" word-spacing="-0.9" fill="#000">Adlercreutzia</text>
<text x="459" y="254.99" font-size="10.2" font-style="italic" letter-spacing="0.13" word-spacing="-0.9" fill="#000">Cutibacte rium</text>
<text x="459" y="266.36" font-size="10.2" font-style="italic" letter-spacing="0.13" word-spacing="-0.9" fill="#000">Enterobacter</text>
<text x="459" y="275.23" font-size="10.2" font-style="italic" letter-spacing="0.13" word-spacing="-0.9" fill="#000">Neisse ria</text>
<text x="459" y="284.10" font-size="10.2" font-style="italic" letter-spacing="0.13" word-spacing="-0.9" fill="#000">Acinetobacter</text>
<text x="459" y="292.97" font-size="10.2" font-style="italic" letter-spacing="0.13" word-spacing="-0.9" fill="#000">Helicobacter</text>
<text x="459" y="301.84" font-size="10.2" font-style="italic" letter-spacing="0.13" word-spacing="-0.9" fill="#000">Desul fovib rio</text>
<text x="459" y="313.21" font-size="10.2" font-style="italic" letter-spacing="0.13" word-spacing="-0.9" fill="#000">Porphyromonas</text>
<text x="459" y="322.08" font-size="10.2" font-style="italic" letter-spacing="0.13" word-spacing="-0.9" fill="#000">Prevotella</text>
<text x="459" y="330.95" font-size="10.2" font-style="italic" letter-spacing="0.13" word-spacing="-0.9" fill="#000">Parabacteroides</text>
<text x="459" y="339.82" font-size="10.2" font-style="italic" letter-spacing="0.13" word-spacing="-0.9" fill="#000">Bacteroides</text>
<text x="459" y="351.19" font-size="10.2" font-style="italic" letter-spacing="0.13" word-spacing="-0.9" fill="#000">Fusobacte rium</text>
<defs><linearGradient id="gr" x1="0" x2="1" y1="0" y2="0">
<stop offset="-0.0209" stop-color="#ffffff"/>
<stop offset="0.1423" stop-color="#fcd7d4"/>
<stop offset="0.3056" stop-color="#f6a8a6"/>
<stop offset="0.4688" stop-color="#ee787a"/>
<stop offset="0.6320" stop-color="#e6505a"/>
<stop offset="0.7953" stop-color="#de2d3e"/>
<stop offset="0.9585" stop-color="#d7142d"/>
<stop offset="1" stop-color="#d6122c"/></linearGradient></defs>
<text x="571" y="23.2" font-size="12.4" letter-spacing="0.08" fill="#000">lg(RPM+1)</text>
<rect x="575" y="26.8" width="71.8" height="16" fill="url(#gr)"/>
<path d="M596.94 26.8v3.8M596.94 39v3.8M620.38 26.8v3.8M620.38 39v3.8M643.82 26.8v3.8M643.82 39v3.8" stroke="#fff" stroke-width="0.8"/>
<text x="573.50" y="51.8" text-anchor="middle" font-size="10" fill="#000">0</text>
<text x="596.94" y="51.8" text-anchor="middle" font-size="10" fill="#000">2</text>
<text x="620.38" y="51.8" text-anchor="middle" font-size="10" fill="#000">4</text>
<text x="643.82" y="51.8" text-anchor="middle" font-size="10" fill="#000">6</text>
<text x="572.8" y="78.8" font-size="10.2" fill="#000">Phylum</text>
<rect x="573.2" y="87.00" width="14.8" height="14.4" fill="#A8C4E6"/>
<text x="591.2" y="99.30" font-size="10.2" font-style="italic" fill="#000">Firmicutes</text>
<rect x="573.2" y="104.75" width="14.8" height="14.4" fill="#C9939B"/>
<text x="591.2" y="117.05" font-size="10.2" font-style="italic" fill="#000">Actinobacte</text>
<rect x="573.2" y="122.50" width="14.8" height="14.4" fill="#F9D4AD"/>
<text x="591.2" y="134.80" font-size="10.2" font-style="italic" fill="#000">Proteobacte</text>
<rect x="573.2" y="140.25" width="14.8" height="14.4" fill="#92CCAA"/>
<text x="591.2" y="152.55" font-size="10.2" font-style="italic" fill="#000">Bacteroidetes</text>
<rect x="573.2" y="158.00" width="14.8" height="14.4" fill="#CBC3DF"/>
<text x="591.2" y="170.30" font-size="10.2" font-style="italic" fill="#000">Fusobacte</text>
<text x="572.8" y="245.6" font-size="12" fill="#000">Sampletype</text>
<rect x="573.2" y="253.40" width="12.4" height="13.1" fill="#FAD9AE"/>
<text x="590.8" y="264.30" font-size="10" fill="#000">Feces</text>
<rect x="573.2" y="267.50" width="12.4" height="13.1" fill="#EC7F8E"/>
<text x="590.8" y="278.40" font-size="10" fill="#000">Intestinal</text>
<rect x="573.2" y="281.60" width="12.4" height="13.1" fill="#D3E6F4"/>
<text x="590.8" y="292.50" font-size="10" fill="#000">Liver</text>
<rect x="573.2" y="295.70" width="12.4" height="13.1" fill="#F7C4CA"/>
<text x="590.8" y="306.60" font-size="10" fill="#000">Lung</text>
<rect x="573.2" y="309.80" width="12.4" height="13.1" fill="#98CD88"/>
<text x="590.8" y="320.70" font-size="10" fill="#000">Lymph</text>
<rect x="573.2" y="323.90" width="12.4" height="13.1" fill="#D8EFC6"/>
<text x="590.8" y="334.80" font-size="10" fill="#000">Serum</text>
<rect x="573.2" y="338.00" width="12.4" height="13.1" fill="#A3BEE2"/>
<text x="590.8" y="348.90" font-size="10" fill="#000">Spleen</text>
<text x="6.3" y="366.8" font-size="12.5" fill="#000" stroke="#000" stroke-width="0.25">b</text>
<rect x="39.50" y="377.20" width="3.905" height="110.30" fill="#D99BC6"/>
<rect x="39.50" y="483.09" width="3.905" height="4.41" fill="#6C86DC"/>
<rect x="39.50" y="472.06" width="3.905" height="11.03" fill="#A3B6F0"/>
<rect x="39.50" y="466.54" width="3.905" height="5.51" fill="#BFE3EA"/>
<rect x="39.50" y="463.23" width="3.905" height="3.31" fill="#B9DA7A"/>
<rect x="39.50" y="459.93" width="3.905" height="3.31" fill="#F5B449"/>
<rect x="39.50" y="380.51" width="3.905" height="79.42" fill="#F9E03A"/>
<rect x="43.41" y="377.20" width="3.905" height="110.30" fill="#D99BC6"/>
<rect x="43.41" y="388.23" width="3.905" height="99.27" fill="#F9E03A"/>
<rect x="47.31" y="377.20" width="3.905" height="110.30" fill="#D99BC6"/>
<rect x="47.31" y="473.82" width="3.905" height="13.68" fill="#54A07C"/>
<rect x="47.31" y="388.23" width="3.905" height="85.59" fill="#F9E03A"/>
<rect x="51.22" y="377.20" width="3.905" height="110.30" fill="#D99BC6"/>
<rect x="51.22" y="394.30" width="3.905" height="93.20" fill="#F9E03A"/>
<rect x="55.12" y="377.20" width="3.905" height="110.30" fill="#D99BC6"/>
<rect x="55.12" y="474.48" width="3.905" height="13.02" fill="#54A07C"/>
<rect x="55.12" y="395.40" width="3.905" height="79.09" fill="#F9E03A"/>
<rect x="59.02" y="377.20" width="3.905" height="110.30" fill="#D99BC6"/>
<rect x="59.02" y="395.95" width="3.905" height="91.55" fill="#F9E03A"/>
<rect x="62.93" y="377.20" width="3.905" height="110.30" fill="#D99BC6"/>
<rect x="62.93" y="481.99" width="3.905" height="5.51" fill="#F9E03A"/>
<rect x="62.93" y="394.85" width="3.905" height="87.14" fill="#F26B38"/>
<rect x="66.83" y="377.20" width="3.905" height="110.30" fill="#D99BC6"/>
<rect x="66.83" y="466.54" width="3.905" height="20.96" fill="#54A07C"/>
<rect x="66.83" y="405.33" width="3.905" height="61.22" fill="#F9E03A"/>
<rect x="70.74" y="377.20" width="3.905" height="110.30" fill="#D99BC6"/>
<rect x="70.74" y="475.92" width="3.905" height="11.58" fill="#54A07C"/>
<rect x="70.74" y="411.39" width="3.905" height="64.53" fill="#F9E03A"/>
<rect x="74.64" y="377.20" width="3.905" height="110.30" fill="#D99BC6"/>
<rect x="74.64" y="436.76" width="3.905" height="50.74" fill="#F9E03A"/>
<rect x="74.64" y="418.01" width="3.905" height="18.75" fill="#F5B449"/>
<rect x="78.55" y="377.20" width="3.905" height="110.30" fill="#D99BC6"/>
<rect x="78.55" y="423.86" width="3.905" height="63.64" fill="#F9E03A"/>
<rect x="82.45" y="377.20" width="3.905" height="110.30" fill="#D99BC6"/>
<rect x="82.45" y="425.18" width="3.905" height="62.32" fill="#F9E03A"/>
<rect x="86.36" y="377.20" width="3.905" height="110.30" fill="#D99BC6"/>
<rect x="86.36" y="479.78" width="3.905" height="7.72" fill="#54A07C"/>
<rect x="86.36" y="428.49" width="3.905" height="51.29" fill="#F9E03A"/>
<rect x="90.27" y="377.20" width="3.905" height="110.30" fill="#D99BC6"/>
<rect x="90.27" y="442.28" width="3.905" height="45.22" fill="#F9E03A"/>
<rect x="90.27" y="436.21" width="3.905" height="6.07" fill="#F5B449"/>
<rect x="90.27" y="429.59" width="3.905" height="6.62" fill="#F9E03A"/>
<rect x="94.17" y="377.20" width="3.905" height="110.30" fill="#D99BC6"/>
<rect x="94.17" y="437.87" width="3.905" height="49.63" fill="#F9E03A"/>
<rect x="98.07" y="377.20" width="3.905" height="110.30" fill="#D99BC6"/>
<rect x="98.07" y="438.97" width="3.905" height="48.53" fill="#F9E03A"/>
<rect x="101.98" y="377.20" width="3.905" height="110.30" fill="#D99BC6"/>
<rect x="101.98" y="471.84" width="3.905" height="15.66" fill="#54A07C"/>
<rect x="101.98" y="439.63" width="3.905" height="32.21" fill="#F9E03A"/>
<rect x="105.88" y="377.20" width="3.905" height="110.30" fill="#D99BC6"/>
<rect x="105.88" y="462.13" width="3.905" height="25.37" fill="#54A07C"/>
<rect x="105.88" y="441.17" width="3.905" height="20.96" fill="#F9E03A"/>
<rect x="109.79" y="377.20" width="3.905" height="110.30" fill="#D99BC6"/>
<rect x="109.79" y="455.51" width="3.905" height="31.99" fill="#54A07C"/>
<rect x="109.79" y="440.07" width="3.905" height="15.44" fill="#F9E03A"/>
<rect x="113.69" y="377.20" width="3.905" height="110.30" fill="#D99BC6"/>
<rect x="113.69" y="459.93" width="3.905" height="27.57" fill="#54A07C"/>
<rect x="113.69" y="448.89" width="3.905" height="11.03" fill="#F9E03A"/>
<rect x="117.60" y="377.20" width="3.905" height="110.30" fill="#D99BC6"/>
<rect x="117.60" y="453.31" width="3.905" height="34.19" fill="#54A07C"/>
<rect x="117.60" y="449.45" width="3.905" height="3.86" fill="#F9E03A"/>
<rect x="121.50" y="377.20" width="3.905" height="110.30" fill="#D99BC6"/>
<rect x="121.50" y="469.85" width="3.905" height="17.65" fill="#F9E03A"/>
<rect x="121.50" y="451.54" width="3.905" height="18.31" fill="#F5B449"/>
<rect x="125.41" y="377.20" width="3.905" height="110.30" fill="#D99BC6"/>
<rect x="125.41" y="452.20" width="3.905" height="35.30" fill="#F9E03A"/>
<rect x="129.31" y="377.20" width="3.905" height="110.30" fill="#D99BC6"/>
<rect x="129.31" y="474.48" width="3.905" height="13.02" fill="#F9E03A"/>
<rect x="129.31" y="455.73" width="3.905" height="18.75" fill="#F5B449"/>
<rect x="133.22" y="377.20" width="3.905" height="110.30" fill="#D99BC6"/>
<rect x="133.22" y="459.93" width="3.905" height="27.57" fill="#F9E03A"/>
<rect x="137.12" y="377.20" width="3.905" height="110.30" fill="#D99BC6"/>
<rect x="137.12" y="463.45" width="3.905" height="24.05" fill="#6C86DC"/>
<rect x="137.12" y="462.13" width="3.905" height="1.32" fill="#F9E03A"/>
<rect x="141.03" y="377.20" width="3.905" height="110.30" fill="#D99BC6"/>
<rect x="141.03" y="469.85" width="3.905" height="17.65" fill="#54A07C"/>
<rect x="141.03" y="461.58" width="3.905" height="8.27" fill="#F9E03A"/>
<rect x="144.94" y="377.20" width="3.905" height="110.30" fill="#D99BC6"/>
<rect x="144.94" y="461.03" width="3.905" height="26.47" fill="#F9E03A"/>
<rect x="148.84" y="377.20" width="3.905" height="110.30" fill="#D99BC6"/>
<rect x="148.84" y="469.85" width="3.905" height="17.65" fill="#54A07C"/>
<rect x="148.84" y="461.03" width="3.905" height="8.82" fill="#F9E03A"/>
<rect x="152.75" y="377.20" width="3.905" height="110.30" fill="#D99BC6"/>
<rect x="152.75" y="461.58" width="3.905" height="25.92" fill="#F9E03A"/>
<rect x="156.65" y="377.20" width="3.905" height="110.30" fill="#D99BC6"/>
<rect x="156.65" y="463.60" width="3.905" height="23.90" fill="#F9E03A"/>
<rect x="160.56" y="377.20" width="3.905" height="110.30" fill="#D99BC6"/>
<rect x="160.56" y="464.89" width="3.905" height="22.61" fill="#F9E03A"/>
<rect x="164.46" y="377.20" width="3.905" height="110.30" fill="#D99BC6"/>
<rect x="164.46" y="472.06" width="3.905" height="15.44" fill="#54A07C"/>
<rect x="164.46" y="466.18" width="3.905" height="5.88" fill="#F9E03A"/>
<rect x="168.36" y="377.20" width="3.905" height="110.30" fill="#D99BC6"/>
<rect x="168.36" y="474.26" width="3.905" height="13.24" fill="#54A07C"/>
<rect x="168.36" y="467.46" width="3.905" height="6.80" fill="#F9E03A"/>
<rect x="172.27" y="377.20" width="3.905" height="110.30" fill="#D99BC6"/>
<rect x="172.27" y="468.75" width="3.905" height="18.75" fill="#F9E03A"/>
<rect x="176.17" y="377.20" width="3.905" height="110.30" fill="#D99BC6"/>
<rect x="176.17" y="469.22" width="3.905" height="18.28" fill="#F9E03A"/>
<rect x="180.08" y="377.20" width="3.905" height="110.30" fill="#D99BC6"/>
<rect x="180.08" y="469.70" width="3.905" height="17.80" fill="#F9E03A"/>
<rect x="183.98" y="377.20" width="3.905" height="110.30" fill="#D99BC6"/>
<rect x="183.98" y="470.18" width="3.905" height="17.32" fill="#F9E03A"/>
<rect x="187.89" y="377.20" width="3.905" height="110.30" fill="#D99BC6"/>
<rect x="187.89" y="470.65" width="3.905" height="16.85" fill="#F9E03A"/>
<rect x="191.79" y="377.20" width="3.905" height="110.30" fill="#D99BC6"/>
<rect x="191.79" y="471.13" width="3.905" height="16.37" fill="#F9E03A"/>
<rect x="195.70" y="377.20" width="3.905" height="110.30" fill="#D99BC6"/>
<rect x="195.70" y="478.68" width="3.905" height="8.82" fill="#54A07C"/>
<rect x="195.70" y="471.60" width="3.905" height="7.07" fill="#F9E03A"/>
<rect x="199.60" y="377.20" width="3.905" height="110.30" fill="#D99BC6"/>
<rect x="199.60" y="472.08" width="3.905" height="15.42" fill="#F9E03A"/>
<rect x="203.51" y="377.20" width="3.905" height="110.30" fill="#D99BC6"/>
<rect x="203.51" y="472.55" width="3.905" height="14.95" fill="#F9E03A"/>
<rect x="207.41" y="377.20" width="3.905" height="110.30" fill="#D99BC6"/>
<rect x="207.41" y="473.03" width="3.905" height="14.47" fill="#F9E03A"/>
<rect x="211.32" y="377.20" width="3.905" height="110.30" fill="#D99BC6"/>
<rect x="211.32" y="473.50" width="3.905" height="14.00" fill="#F9E03A"/>
<rect x="215.22" y="377.20" width="3.905" height="110.30" fill="#D99BC6"/>
<rect x="215.22" y="473.98" width="3.905" height="13.52" fill="#F9E03A"/>
<rect x="219.13" y="377.20" width="3.905" height="110.30" fill="#D99BC6"/>
<rect x="219.13" y="477.57" width="3.905" height="9.93" fill="#54A07C"/>
<rect x="219.13" y="474.42" width="3.905" height="3.15" fill="#F9E03A"/>
<rect x="223.03" y="377.20" width="3.905" height="110.30" fill="#D99BC6"/>
<rect x="223.03" y="474.82" width="3.905" height="12.68" fill="#F9E03A"/>
<rect x="226.94" y="377.20" width="3.905" height="110.30" fill="#D99BC6"/>
<rect x="226.94" y="477.02" width="3.905" height="10.48" fill="#54A07C"/>
<rect x="226.94" y="475.22" width="3.905" height="1.81" fill="#F9E03A"/>
<rect x="230.84" y="377.20" width="3.905" height="110.30" fill="#D99BC6"/>
<rect x="230.84" y="475.61" width="3.905" height="11.89" fill="#F9E03A"/>
<rect x="234.75" y="377.20" width="3.905" height="110.30" fill="#D99BC6"/>
<rect x="234.75" y="476.01" width="3.905" height="11.49" fill="#F9E03A"/>
<rect x="238.66" y="377.20" width="3.905" height="110.30" fill="#D99BC6"/>
<rect x="238.66" y="476.41" width="3.905" height="11.09" fill="#F9E03A"/>
<rect x="242.56" y="377.20" width="3.905" height="110.30" fill="#D99BC6"/>
<rect x="242.56" y="476.80" width="3.905" height="10.70" fill="#F9E03A"/>
<rect x="246.47" y="377.20" width="3.905" height="110.30" fill="#D99BC6"/>
<rect x="246.47" y="477.20" width="3.905" height="10.30" fill="#F9E03A"/>
<rect x="250.37" y="377.20" width="3.905" height="110.30" fill="#D99BC6"/>
<rect x="250.37" y="477.60" width="3.905" height="9.90" fill="#F9E03A"/>
<rect x="254.27" y="377.20" width="3.905" height="110.30" fill="#D99BC6"/>
<rect x="254.27" y="477.99" width="3.905" height="9.51" fill="#F9E03A"/>
<rect x="258.18" y="377.20" width="3.905" height="110.30" fill="#D99BC6"/>
<rect x="258.18" y="478.39" width="3.905" height="9.11" fill="#F9E03A"/>
<rect x="262.08" y="377.20" width="3.905" height="110.30" fill="#D99BC6"/>
<rect x="262.08" y="478.79" width="3.905" height="8.71" fill="#F9E03A"/>
<rect x="265.99" y="377.20" width="3.905" height="110.30" fill="#D99BC6"/>
<rect x="265.99" y="481.99" width="3.905" height="5.51" fill="#54A07C"/>
<rect x="265.99" y="479.33" width="3.905" height="2.66" fill="#F9E03A"/>
<rect x="269.89" y="377.20" width="3.905" height="110.30" fill="#D99BC6"/>
<rect x="269.89" y="479.86" width="3.905" height="7.64" fill="#F9E03A"/>
<rect x="273.80" y="377.20" width="3.905" height="110.30" fill="#D99BC6"/>
<rect x="273.80" y="480.40" width="3.905" height="7.10" fill="#F9E03A"/>
<rect x="277.70" y="377.20" width="3.905" height="110.30" fill="#D99BC6"/>
<rect x="277.70" y="480.94" width="3.905" height="6.56" fill="#F9E03A"/>
<rect x="281.61" y="377.20" width="3.905" height="110.30" fill="#D99BC6"/>
<rect x="281.61" y="481.99" width="3.905" height="5.51" fill="#54A07C"/>
<rect x="281.61" y="481.31" width="3.905" height="0.68" fill="#F9E03A"/>
<rect x="285.51" y="377.20" width="3.905" height="110.30" fill="#D99BC6"/>
<rect x="285.51" y="481.50" width="3.905" height="6.00" fill="#F9E03A"/>
<rect x="289.42" y="377.20" width="3.905" height="110.30" fill="#D99BC6"/>
<rect x="289.42" y="481.69" width="3.905" height="5.81" fill="#F9E03A"/>
<rect x="293.32" y="377.20" width="3.905" height="110.30" fill="#D99BC6"/>
<rect x="293.32" y="481.88" width="3.905" height="5.62" fill="#F9E03A"/>
<rect x="297.23" y="377.20" width="3.905" height="110.30" fill="#D99BC6"/>
<rect x="297.23" y="482.08" width="3.905" height="5.42" fill="#F9E03A"/>
<rect x="301.13" y="377.20" width="3.905" height="110.30" fill="#D99BC6"/>
<rect x="301.13" y="482.27" width="3.905" height="5.23" fill="#F9E03A"/>
<rect x="305.04" y="377.20" width="3.905" height="110.30" fill="#D99BC6"/>
<rect x="305.04" y="482.46" width="3.905" height="5.04" fill="#F9E03A"/>
<rect x="308.94" y="377.20" width="3.905" height="110.30" fill="#D99BC6"/>
<rect x="308.94" y="482.65" width="3.905" height="4.85" fill="#F9E03A"/>
<rect x="312.85" y="377.20" width="3.905" height="110.30" fill="#D99BC6"/>
<rect x="312.85" y="482.84" width="3.905" height="4.66" fill="#F9E03A"/>
<rect x="316.75" y="377.20" width="3.905" height="110.30" fill="#D99BC6"/>
<rect x="316.75" y="483.03" width="3.905" height="4.47" fill="#F9E03A"/>
<rect x="320.66" y="377.20" width="3.905" height="110.30" fill="#D99BC6"/>
<rect x="320.66" y="483.19" width="3.905" height="4.31" fill="#F9E03A"/>
<rect x="324.56" y="377.20" width="3.905" height="110.30" fill="#D99BC6"/>
<rect x="324.56" y="483.36" width="3.905" height="4.14" fill="#F9E03A"/>
<rect x="328.47" y="377.20" width="3.905" height="110.30" fill="#D99BC6"/>
<rect x="328.47" y="483.53" width="3.905" height="3.97" fill="#F9E03A"/>
<rect x="332.38" y="377.20" width="3.905" height="110.30" fill="#D99BC6"/>
<rect x="332.38" y="483.69" width="3.905" height="3.81" fill="#F9E03A"/>
<rect x="336.28" y="377.20" width="3.905" height="110.30" fill="#D99BC6"/>
<rect x="336.28" y="483.86" width="3.905" height="3.64" fill="#F9E03A"/>
<rect x="340.19" y="377.20" width="3.905" height="110.30" fill="#D99BC6"/>
<rect x="340.19" y="484.02" width="3.905" height="3.48" fill="#F9E03A"/>
<rect x="344.09" y="377.20" width="3.905" height="110.30" fill="#D99BC6"/>
<rect x="344.09" y="484.19" width="3.905" height="3.31" fill="#F9E03A"/>
<rect x="348.00" y="377.20" width="3.905" height="110.30" fill="#D99BC6"/>
<rect x="348.00" y="484.36" width="3.905" height="3.14" fill="#F9E03A"/>
<rect x="351.90" y="377.20" width="3.905" height="110.30" fill="#D99BC6"/>
<rect x="351.90" y="484.52" width="3.905" height="2.98" fill="#F9E03A"/>
<rect x="355.81" y="377.20" width="3.905" height="110.30" fill="#D99BC6"/>
<rect x="355.81" y="484.72" width="3.905" height="2.78" fill="#F9E03A"/>
<rect x="359.71" y="377.20" width="3.905" height="110.30" fill="#D99BC6"/>
<rect x="359.71" y="484.91" width="3.905" height="2.59" fill="#F9E03A"/>
<rect x="363.62" y="377.20" width="3.905" height="110.30" fill="#D99BC6"/>
<rect x="363.62" y="485.11" width="3.905" height="2.39" fill="#F9E03A"/>
<rect x="367.52" y="377.20" width="3.905" height="110.30" fill="#D99BC6"/>
<rect x="367.52" y="485.31" width="3.905" height="2.19" fill="#F9E03A"/>
<rect x="371.43" y="377.20" width="3.905" height="110.30" fill="#D99BC6"/>
<rect x="371.43" y="485.50" width="3.905" height="2.00" fill="#F9E03A"/>
<rect x="375.33" y="377.20" width="3.905" height="110.30" fill="#D99BC6"/>
<rect x="375.33" y="485.70" width="3.905" height="1.80" fill="#F9E03A"/>
<rect x="379.23" y="377.20" width="3.905" height="110.30" fill="#D99BC6"/>
<rect x="379.23" y="485.89" width="3.905" height="1.61" fill="#F9E03A"/>
<rect x="383.14" y="377.20" width="3.905" height="110.30" fill="#D99BC6"/>
<rect x="383.14" y="486.09" width="3.905" height="1.41" fill="#F9E03A"/>
<rect x="387.04" y="377.20" width="3.905" height="110.30" fill="#D99BC6"/>
<rect x="387.04" y="486.29" width="3.905" height="1.21" fill="#F9E03A"/>
<rect x="390.95" y="377.20" width="3.905" height="110.30" fill="#D99BC6"/>
<rect x="390.95" y="486.95" width="3.905" height="0.55" fill="#F9E03A"/>
<rect x="394.85" y="377.20" width="3.905" height="110.30" fill="#D99BC6"/>
<rect x="394.85" y="486.95" width="3.905" height="0.55" fill="#F9E03A"/>
<rect x="398.76" y="377.20" width="3.905" height="110.30" fill="#D99BC6"/>
<rect x="398.76" y="486.95" width="3.905" height="0.55" fill="#F9E03A"/>
<rect x="402.66" y="377.20" width="3.905" height="110.30" fill="#D99BC6"/>
<rect x="402.66" y="486.95" width="3.905" height="0.55" fill="#F9E03A"/>
<rect x="406.57" y="377.20" width="3.905" height="110.30" fill="#D99BC6"/>
<rect x="406.57" y="486.95" width="3.905" height="0.55" fill="#F9E03A"/>
<rect x="410.47" y="377.20" width="3.905" height="110.30" fill="#D99BC6"/>
<rect x="410.47" y="486.95" width="3.905" height="0.55" fill="#F9E03A"/>
<rect x="414.38" y="377.20" width="3.905" height="110.30" fill="#D99BC6"/>
<rect x="414.38" y="486.95" width="3.905" height="0.55" fill="#F9E03A"/>
<rect x="418.28" y="377.20" width="3.905" height="110.30" fill="#D99BC6"/>
<rect x="418.28" y="486.95" width="3.905" height="0.55" fill="#F9E03A"/>
<rect x="422.19" y="377.20" width="3.905" height="110.30" fill="#D99BC6"/>
<rect x="422.19" y="486.95" width="3.905" height="0.55" fill="#F9E03A"/>
<rect x="426.09" y="377.20" width="3.905" height="110.30" fill="#D99BC6"/>
<rect x="426.09" y="377.20" width="3.905" height="110.30" fill="#F9E03A"/>
<rect x="430.00" y="377.20" width="3.905" height="110.30" fill="#D99BC6"/>
<rect x="430.00" y="468.75" width="3.905" height="18.75" fill="#6C86DC"/>
<rect x="430.00" y="465.44" width="3.905" height="3.31" fill="#A3B6F0"/>
<rect x="433.90" y="377.20" width="3.905" height="110.30" fill="#D99BC6"/>
<rect x="437.81" y="377.20" width="3.905" height="110.30" fill="#D99BC6"/>
<rect x="441.71" y="377.20" width="3.905" height="110.30" fill="#D99BC6"/>
<rect x="445.62" y="377.20" width="3.905" height="110.30" fill="#D99BC6"/>
<rect x="449.52" y="377.20" width="3.905" height="110.30" fill="#D99BC6"/>
<rect x="449.52" y="483.09" width="3.905" height="4.41" fill="#6C86DC"/>
<rect x="449.52" y="472.06" width="3.905" height="11.03" fill="#E8D2BC"/>
<path d="M43.41 377.20V487.50M47.31 377.20V487.50M51.22 377.20V487.50M55.12 377.20V487.50M59.02 377.20V487.50M62.93 377.20V487.50M66.83 377.20V487.50M70.74 377.20V487.50M74.64 377.20V487.50M78.55 377.20V487.50M82.45 377.20V487.50M86.36 377.20V487.50M90.27 377.20V487.50M94.17 377.20V487.50M98.07 377.20V487.50M101.98 377.20V487.50M105.88 377.20V487.50M109.79 377.20V487.50M113.69 377.20V487.50M117.60 377.20V487.50M121.50 377.20V487.50M125.41 377.20V487.50M129.31 377.20V487.50M133.22 377.20V487.50M137.12 377.20V487.50M141.03 377.20V487.50M144.94 377.20V487.50M148.84 377.20V487.50M152.75 377.20V487.50M156.65 377.20V487.50M160.56 377.20V487.50M164.46 377.20V487.50M168.36 377.20V487.50M172.27 377.20V487.50M176.17 377.20V487.50M180.08 377.20V487.50M183.98 377.20V487.50M187.89 377.20V487.50M191.79 377.20V487.50M195.70 377.20V487.50M199.60 377.20V487.50M203.51 377.20V487.50M207.41 377.20V487.50M211.32 377.20V487.50M215.22 377.20V487.50M219.13 377.20V487.50M223.03 377.20V487.50M226.94 377.20V487.50M230.84 377.20V487.50M234.75 377.20V487.50M238.66 377.20V487.50M242.56 377.20V487.50M246.47 377.20V487.50M250.37 377.20V487.50M254.27 377.20V487.50M258.18 377.20V487.50M262.08 377.20V487.50M265.99 377.20V487.50M269.89 377.20V487.50M273.80 377.20V487.50M277.70 377.20V487.50M281.61 377.20V487.50M285.51 377.20V487.50M289.42 377.20V487.50M293.32 377.20V487.50M297.23 377.20V487.50M301.13 377.20V487.50M305.04 377.20V487.50M308.94 377.20V487.50M312.85 377.20V487.50M316.75 377.20V487.50M320.66 377.20V487.50M324.56 377.20V487.50M328.47 377.20V487.50M332.38 377.20V487.50M336.28 377.20V487.50M340.19 377.20V487.50M344.09 377.20V487.50M348.00 377.20V487.50M351.90 377.20V487.50M355.81 377.20V487.50M359.71 377.20V487.50M363.62 377.20V487.50M367.52 377.20V487.50M371.43 377.20V487.50M375.33 377.20V487.50M379.23 377.20V487.50M383.14 377.20V487.50M387.04 377.20V487.50M390.95 377.20V487.50M394.85 377.20V487.50M398.76 377.20V487.50M402.66 377.20V487.50M406.57 377.20V487.50M410.47 377.20V487.50M414.38 377.20V487.50M418.28 377.20V487.50M422.19 377.20V487.50M426.09 377.20V487.50M430.00 377.20V487.50M433.90 377.20V487.50M437.81 377.20V487.50M441.71 377.20V487.50M445.62 377.20V487.50M449.52 377.20V487.50" stroke="#000" stroke-width="1" opacity="0.2" fill="none"/>
<rect x="39.50" y="489.8" width="390.50" height="8.8" fill="#FAE0C6"/>
<rect x="430.00" y="489.8" width="19.52" height="8.8" fill="#EE8F97"/>
<rect x="449.52" y="489.8" width="3.90" height="8.8" fill="#CFE0EE"/>
<rect x="39.5" y="376.4" width="414.3" height="123" fill="none" stroke="#3b3038" stroke-width="1.1"/>
<text x="33" y="380.70" text-anchor="end" font-size="9.8" fill="#4d4d4d">1.00</text>
<path d="M36.6 377.20H38.4" stroke="#333" stroke-width="1"/>
<text x="33" y="408.27" text-anchor="end" font-size="9.8" fill="#4d4d4d">0.75</text>
<path d="M36.6 404.77H38.4" stroke="#333" stroke-width="1"/>
<text x="33" y="435.85" text-anchor="end" font-size="9.8" fill="#4d4d4d">0.50</text>
<path d="M36.6 432.35H38.4" stroke="#333" stroke-width="1"/>
<text x="33" y="463.43" text-anchor="end" font-size="9.8" fill="#4d4d4d">0.25</text>
<path d="M36.6 459.93H38.4" stroke="#333" stroke-width="1"/>
<text x="33" y="491.00" text-anchor="end" font-size="9.8" fill="#4d4d4d">0.00</text>
<path d="M36.6 487.50H38.4" stroke="#333" stroke-width="1"/>
<text transform="translate(8,430.5) rotate(-90)" text-anchor="middle" font-size="10.2" fill="#000">Relative abundance</text>
<text x="465.7" y="387.2" font-size="12" letter-spacing="0.1" fill="#000">Microbe</text>
<rect x="468.3" y="395.10" width="13.5" height="14" fill="#DDAFD3"/>
<text x="485.8" y="404.80" font-size="10.2" font-style="italic" letter-spacing="0.12" fill="#000">Bacteroides</text>
<rect x="468.3" y="412.55" width="13.5" height="14" fill="#F99272"/>
<text x="485.8" y="422.25" font-size="10.2" font-style="italic" letter-spacing="0.12" fill="#000">Enterobacter</text>
<rect x="468.3" y="430.00" width="13.5" height="14" fill="#F9C679"/>
<text x="485.8" y="439.70" font-size="10.2" font-style="italic" letter-spacing="0.12" fill="#000">Enterococcus</text>
<rect x="468.3" y="447.45" width="13.5" height="14" fill="#FBE574"/>
<text x="485.8" y="457.15" font-size="10.2" font-style="italic" letter-spacing="0.12" fill="#000">Escherichia</text>
<rect x="468.3" y="464.90" width="13.5" height="14" fill="#E8D8C6"/>
<text x="485.8" y="474.60" font-size="10.2" font-style="italic" letter-spacing="0.12" fill="#000">Fusobacterium</text>
<rect x="468.3" y="482.35" width="13.5" height="14" fill="#F7EFD8"/>
<text x="485.8" y="492.05" font-size="10.2" font-style="italic" letter-spacing="0.12" fill="#000">Granulicatella</text>
<rect x="559.7" y="395.10" width="13.5" height="14" fill="#88BB9C"/>
<text x="575.5" y="404.80" font-size="10.2" font-style="italic" letter-spacing="0.12" fill="#000">Helicobacter</text>
<rect x="559.7" y="412.55" width="13.5" height="14" fill="#C6DF8E"/>
<text x="575.5" y="422.25" font-size="10.2" font-style="italic" letter-spacing="0.12" fill="#000">Neisseria</text>
<rect x="559.7" y="430.00" width="13.5" height="14" fill="#7FCFC6"/>
<text x="575.5" y="439.70" font-size="10.2" font-style="italic" letter-spacing="0.12" fill="#000">Peptostreptococcus</text>
<rect x="559.7" y="447.45" width="13.5" height="14" fill="#CDE8EC"/>
<text x="575.5" y="457.15" font-size="10.2" font-style="italic" letter-spacing="0.12" fill="#000">Porphyromonas</text>
<rect x="559.7" y="464.90" width="13.5" height="14" fill="#B9C6F2"/>
<text x="575.5" y="474.60" font-size="10.2" font-style="italic" letter-spacing="0.12" fill="#000">Prevotella</text>
<rect x="559.7" y="482.35" width="13.5" height="14" fill="#8BA0EA"/>
<text x="575.5" y="492.05" font-size="10.2" font-style="italic" letter-spacing="0.12" fill="#000">Streptococcus</text>
</svg></body></html>
